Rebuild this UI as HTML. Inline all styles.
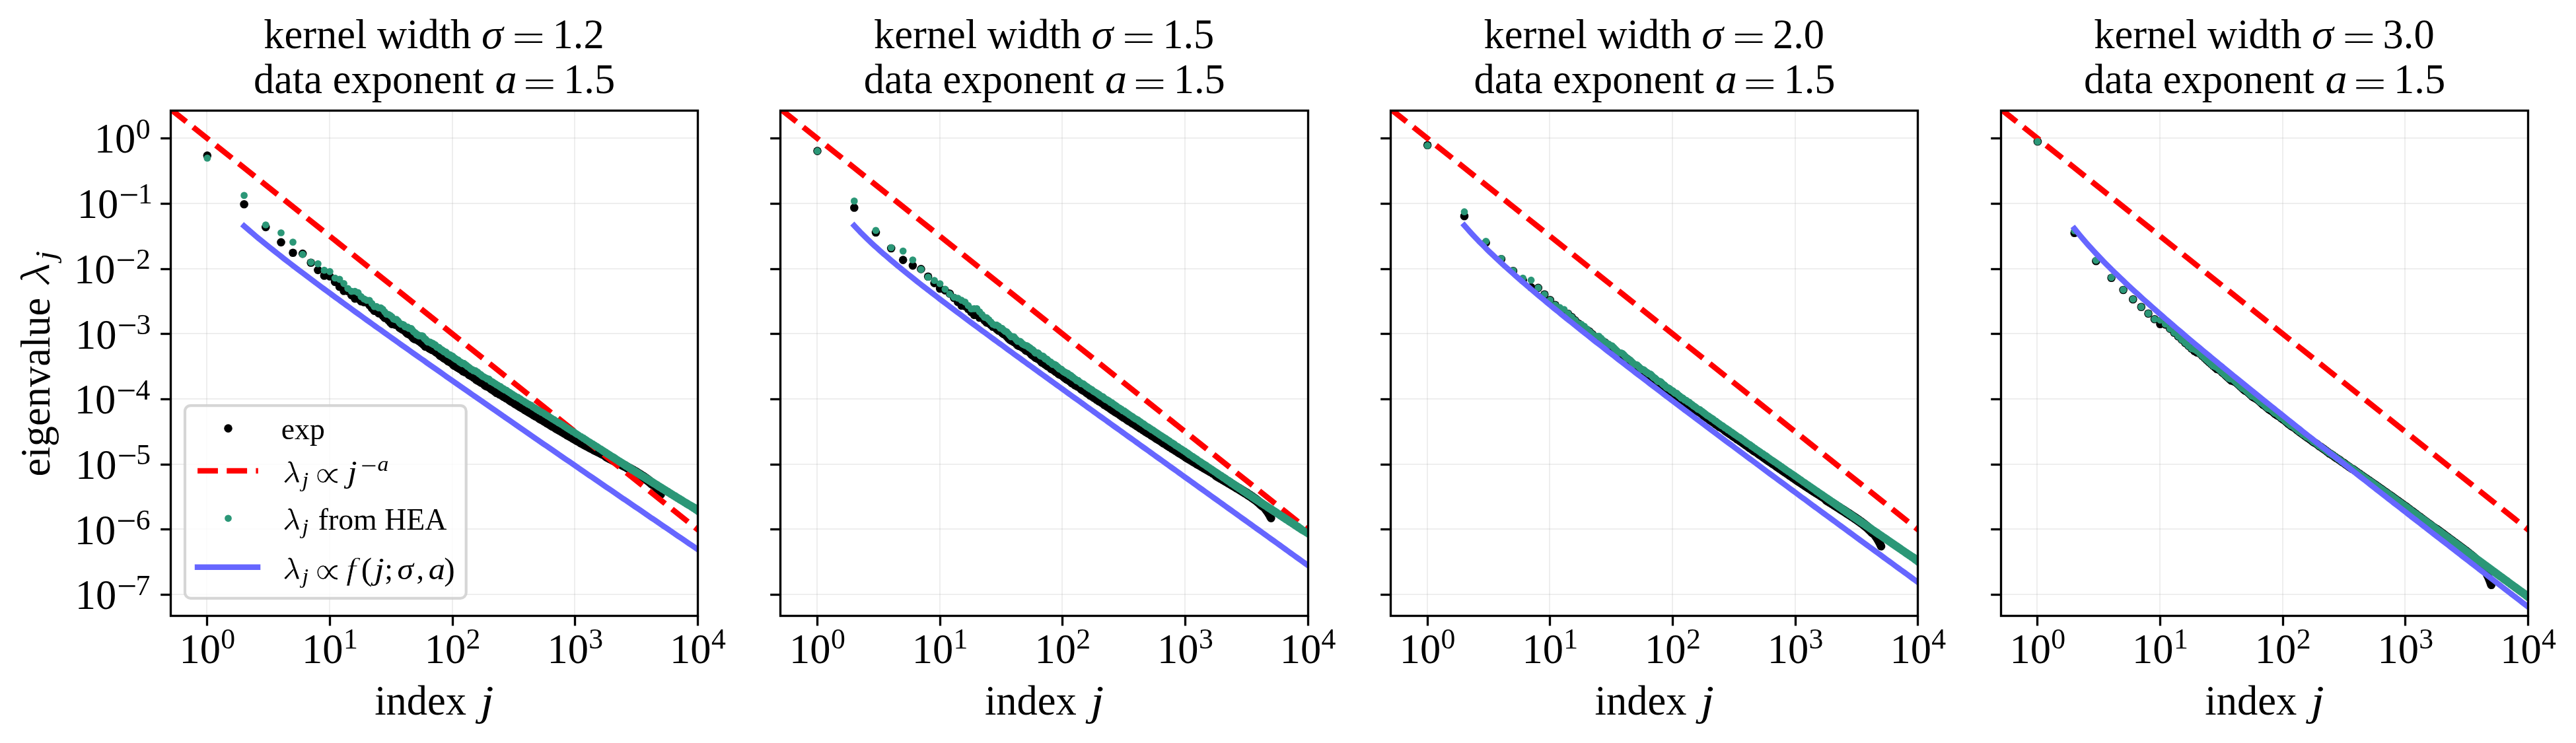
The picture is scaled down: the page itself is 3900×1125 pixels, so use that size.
<!DOCTYPE html>
<html><head><meta charset="utf-8"><title>spectra</title><style>html,body{margin:0;padding:0;background:#fff}svg{display:block;will-change:transform}text{font-family:"Liberation Serif",serif;fill:#000}.i{font-style:italic}</style></head><body>
<svg width="3900" height="1125" viewBox="0 0 3900 1125">
<rect width="3900" height="1125" fill="#fff"/>
<defs>
<clipPath id="c0"><rect x="258.5" y="167.5" width="798.0" height="765.0"/></clipPath>
<clipPath id="c1"><rect x="1181.5" y="167.5" width="799.0" height="765.0"/></clipPath>
<clipPath id="c2"><rect x="2105.5" y="167.5" width="798.0" height="765.0"/></clipPath>
<clipPath id="c3"><rect x="3029.5" y="167.5" width="798.0" height="765.0"/></clipPath>
</defs>
<g stroke="#b0b0b0" stroke-opacity="0.21" stroke-width="2">
<line x1="313" y1="167.5" x2="313" y2="932.5"/>
<line x1="499" y1="167.5" x2="499" y2="932.5"/>
<line x1="685" y1="167.5" x2="685" y2="932.5"/>
<line x1="870" y1="167.5" x2="870" y2="932.5"/>
<line x1="258.5" y1="209" x2="1056.5" y2="209"/>
<line x1="258.5" y1="308" x2="1056.5" y2="308"/>
<line x1="258.5" y1="407" x2="1056.5" y2="407"/>
<line x1="258.5" y1="505" x2="1056.5" y2="505"/>
<line x1="258.5" y1="604" x2="1056.5" y2="604"/>
<line x1="258.5" y1="703" x2="1056.5" y2="703"/>
<line x1="258.5" y1="801" x2="1056.5" y2="801"/>
<line x1="258.5" y1="900" x2="1056.5" y2="900"/>
</g>
<g clip-path="url(#c0)">
<g fill="#000">
<circle cx="313.8" cy="235.6" r="6.3"/>
<circle cx="369.6" cy="309.2" r="6.3"/>
<circle cx="402.3" cy="343.9" r="6.3"/>
<circle cx="425.5" cy="366.9" r="6.3"/>
<circle cx="443.5" cy="382.7" r="6.3"/>
<circle cx="458.2" cy="384.1" r="6.3"/>
<circle cx="470.7" cy="397.7" r="6.3"/>
<circle cx="481.4" cy="408.9" r="6.3"/>
<circle cx="490.9" cy="417.5" r="6.3"/>
<circle cx="499.4" cy="418.5" r="6.3"/>
<circle cx="507.1" cy="426.9" r="6.3"/>
<circle cx="514.1" cy="434.3" r="6.3"/>
<circle cx="520.6" cy="440.5" r="6.3"/>
<circle cx="526.6" cy="440.9" r="6.3"/>
<circle cx="532.1" cy="446.9" r="6.3"/>
<circle cx="537.3" cy="452.1" r="6.3"/>
<circle cx="542.2" cy="452.4" r="6.3"/>
<circle cx="546.8" cy="456.2" r="6.3"/>
<circle cx="551.2" cy="457.5" r="6.3"/>
<circle cx="555.3" cy="457.5" r="6.3"/>
<circle cx="559.3" cy="462.1" r="6.3"/>
<circle cx="563" cy="466.5" r="6.3"/>
<circle cx="566.6" cy="470.6" r="6.3"/>
<circle cx="570" cy="471" r="6.3"/>
<circle cx="573.3" cy="474.4" r="6.3"/>
<circle cx="576.5" cy="474.9" r="6.3"/>
<circle cx="579.5" cy="478" r="6.3"/>
<circle cx="582.5" cy="481.4" r="6.3"/>
<circle cx="585.3" cy="482.1" r="6.3"/>
<circle cx="588" cy="484.7" r="6.3"/>
<circle cx="590.7" cy="487.8" r="6.3"/>
<circle cx="593.2" cy="490.6" r="6.3"/>
<circle cx="595.7" cy="490.7" r="6.3"/>
<circle cx="598.1" cy="491.6" r="6.3"/>
<circle cx="600.4" cy="491.8" r="6.3"/>
<circle cx="602.7" cy="493.5" r="6.3"/>
<circle cx="604.9" cy="496.2" r="6.3"/>
<circle cx="607.1" cy="497.6" r="6.3"/>
<circle cx="609.2" cy="498.7" r="6.3"/>
<circle cx="611.2" cy="499.8" r="6.3"/>
<circle cx="613.2" cy="501.2" r="6.3"/>
<circle cx="615.1" cy="503.6" r="6.3"/>
<circle cx="617" cy="505.2" r="6.3"/>
<circle cx="618.9" cy="505.9" r="6.3"/>
<circle cx="620.7" cy="507.1" r="6.3"/>
<circle cx="622.5" cy="508.1" r="6.3"/>
<circle cx="624.2" cy="510.2" r="6.3"/>
<circle cx="625.9" cy="512.3" r="6.3"/>
<circle cx="627.6" cy="513.2" r="6.3"/>
<circle cx="629.2" cy="513.7" r="6.3"/>
<circle cx="630.8" cy="514.3" r="6.3"/>
<circle cx="632.4" cy="514.5" r="6.3"/>
<circle cx="633.9" cy="516.2" r="6.3"/>
<circle cx="635.4" cy="516.3" r="6.3"/>
<circle cx="636.9" cy="518.1" r="6.3"/>
<circle cx="638.3" cy="519.6" r="6.3"/>
<circle cx="639.8" cy="519.9" r="6.3"/>
<circle cx="641.2" cy="521.7" r="6.3"/>
<circle cx="642.6" cy="523.4" r="6.3"/>
<circle cx="643.9" cy="524.7" r="6.3"/>
<circle cx="645.2" cy="525" r="6.3"/>
<circle cx="646.6" cy="525.1" r="6.3"/>
<circle cx="647.8" cy="525.7" r="6.3"/>
<circle cx="649.1" cy="526.7" r="6.3"/>
<circle cx="650.4" cy="527.8" r="6.3"/>
<circle cx="651.6" cy="528.3" r="6.3"/>
<circle cx="652.8" cy="528.7" r="6.3"/>
<circle cx="654" cy="529.9" r="6.3"/>
<circle cx="655.2" cy="530" r="6.3"/>
<circle cx="656.3" cy="530" r="6.3"/>
<circle cx="657.5" cy="531.3" r="6.3"/>
<circle cx="658.6" cy="531.4" r="6.3"/>
<circle cx="659.7" cy="532.9" r="6.3"/>
<circle cx="660.8" cy="533.9" r="6.3"/>
<circle cx="661.9" cy="534.3" r="6.3"/>
<circle cx="663" cy="534.6" r="6.3"/>
<circle cx="664" cy="535.7" r="6.3"/>
<circle cx="665.1" cy="537.1" r="6.3"/>
<circle cx="666.1" cy="538.5" r="6.3"/>
<circle cx="667.1" cy="538.9" r="6.3"/>
<circle cx="668.1" cy="538.9" r="6.3"/>
<circle cx="669.1" cy="539.8" r="6.3"/>
<circle cx="670.1" cy="541.1" r="6.3"/>
<circle cx="671" cy="541.2" r="6.3"/>
<circle cx="672" cy="542.4" r="6.3"/>
<circle cx="672.9" cy="542.9" r="6.3"/>
<circle cx="673.9" cy="543.3" r="6.3"/>
<circle cx="674.8" cy="543.6" r="6.3"/>
<circle cx="675.7" cy="544.6" r="6.3"/>
<circle cx="676.6" cy="544.8" r="6.3"/>
<circle cx="677.5" cy="546" r="6.3"/>
<circle cx="678.4" cy="546.7" r="6.3"/>
<circle cx="679.2" cy="547.2" r="6.3"/>
<circle cx="680.1" cy="547.2" r="6.3"/>
<circle cx="681" cy="547.7" r="6.3"/>
<circle cx="681.8" cy="548.2" r="6.3"/>
<circle cx="682.6" cy="548.3" r="6.3"/>
<circle cx="683.5" cy="549.5" r="6.3"/>
<circle cx="684.3" cy="550.3" r="6.3"/>
<circle cx="685.1" cy="550.6" r="6.3"/>
<circle cx="685.9" cy="551.7" r="6.3"/>
<circle cx="686.7" cy="552.8" r="6.3"/>
<circle cx="687.5" cy="553.6" r="6.3"/>
<circle cx="688.3" cy="553.6" r="6.3"/>
<circle cx="689" cy="553.8" r="6.3"/>
<circle cx="689.8" cy="554.3" r="6.3"/>
<circle cx="690.6" cy="554.8" r="6.3"/>
<circle cx="691.3" cy="555.6" r="6.3"/>
<circle cx="692" cy="555.8" r="6.3"/>
<circle cx="692.8" cy="556.4" r="6.3"/>
<circle cx="693.5" cy="556.8" r="6.3"/>
<circle cx="694.2" cy="556.8" r="6.3"/>
<circle cx="695" cy="557.8" r="6.3"/>
<circle cx="695.7" cy="557.8" r="6.3"/>
<circle cx="696.4" cy="558.6" r="6.3"/>
<circle cx="697.1" cy="558.7" r="6.3"/>
<circle cx="697.8" cy="558.9" r="6.3"/>
<circle cx="698.4" cy="559.7" r="6.3"/>
<circle cx="699.1" cy="559.8" r="6.3"/>
<circle cx="699.8" cy="560.6" r="6.3"/>
</g>
<polyline points="699.8,560.6 701.1,562.5 702.4,562.7 703.7,563.5 705,563.8 706.3,564.2 707.5,565 708.7,565.9 709.9,567.6 711.1,568.3 712.2,568.6 713.4,569.4 714.5,569.9 715.6,570.7 716.7,571.5 717.8,572.4 718.9,572.8 719.9,573.7 721,575.1 722,575.5 723,576.3 724,576.6 725,577.3 726,577.9 726.9,578.6 727.9,579.2 728.8,579.7 729.8,579.8 730.7,580.5 731.6,581.1 732.5,581.8 733.8,583.3 735.1,584.2 736.4,584.9 737.7,585.4 739,585.8 740.2,586.6 741.4,587.1 742.6,588.3 743.8,589.4 744.9,589.9 746.1,590.5 747.2,591.5 748.3,592.2 749.4,593.1 750.5,593.8 751.6,595 752.6,595.2 753.7,595.7 754.7,596.1 755.7,596.8 756.7,597.5 757.7,597.8 758.7,598.2 759.6,598.8 760.6,599.8 761.5,600 762.5,601 763.4,601.1 764.3,601.5 765.2,602.4 766.4,603.2 767.5,603.8 768.7,604.3 769.8,605 771,606.1 772.1,606.9 773.2,607.7 774.2,608.3 775.3,608.8 776.3,609.2 777.4,610 778.4,610.9 779.4,611.5 780.4,612 781.4,612.8 782.3,613.1 783.3,613.6 784.3,614.5 785.2,615.1 786.1,615.6 787,616.3 787.9,616.5 789.1,617.3 790.2,618.2 791.3,618.4 792.3,619.2 793.4,620 794.4,620.8 795.5,621.4 796.5,621.9 797.5,622.5 798.5,623.1 799.5,623.7 800.4,624.3 801.4,624.8 802.3,625.1 803.3,625.9 804.2,626.5 805.1,627 806,627.6 807.1,628.2 808.2,629.1 809.2,629.5 810.2,630.4 811.3,630.7 812.3,631.2 813.3,631.6 814.2,632.1 815.2,633.1 816.2,633.9 817.1,634.4 818,634.7 819,635.5 819.9,635.7 820.8,636.4 821.8,636.9 822.9,637.6 823.9,638.3 824.9,638.7 825.9,639.4 826.8,640 827.8,640.8 828.8,641.3 829.7,641.8 830.7,642.4 831.6,642.9 832.5,643.5 833.4,644.1 834.4,644.8 835.4,645.2 836.4,646 837.4,646.3 838.4,646.8 839.3,647.4 840.3,648.2 841.2,648.8 842.1,649.4 843,649.7 843.9,650.4 845,650.9 845.9,651.5 846.9,652 847.9,652.5 848.9,653.2 849.8,653.7 850.7,654.3 851.7,654.9 852.6,655.3 853.5,656 854.5,656.5 855.5,656.9 856.4,657.7 857.4,658.3 858.3,659.1 859.3,659.6 860.2,660 861.1,660.5 862,660.9 863,661.4 864,662.2 864.9,662.6 865.9,663.1 866.8,663.8 867.7,664.4 868.7,664.9 869.6,665.2 870.5,665.8 871.5,666.4 872.5,667.1 873.4,667.6 874.3,668.1" fill="none" stroke="#000" stroke-width="12.6" stroke-linecap="round" stroke-linejoin="round"/>
<polyline points="871.5,666.4 872.5,667.1 873.4,667.6 874.3,668.1 875.2,668.5 876.2,669 877.1,669.6 878,670.4 879,671 879.9,671.4 880.8,671.9 881.8,672.4 882.7,672.9 883.6,673.4 884.6,674 885.5,674.4 886.5,675 887.4,675.4 888.3,675.9 889.2,676.3 890.2,676.8 891.1,677.4 892.1,678.1 893,678.4 893.9,679 894.8,679.4 895.7,679.7 896.7,680.3 897.6,680.8 898.5,681.4 899.4,681.7 900.4,682.5 901.3,682.8 902.3,683.3 903.2,683.8 904.1,684.2 905,684.7 906,685.2 906.9,685.6 907.8,686.1 908.7,686.6 909.6,687 910.6,687.5 911.5,687.9 912.4,688.4 913.3,688.8 914.3,689.2 915.2,689.9 916.1,690.3 917,690.8 917.9,691.2 918.9,691.6 919.8,692 920.7,692.6 921.6,693 922.6,693.5 923.5,694.1 924.4,694.4 925.3,694.9 926.3,695.4 927.2,695.9 928.1,696.3 929,696.8 929.9,697.2 930.9,697.7 931.8,698.2 932.7,698.7 933.6,699.2 934.5,699.6 935.4,700.1 936.4,700.7 937.3,701.1 938.2,701.6 939.1,701.9 940,702.5 941,703 941.9,703.5 942.8,704 943.7,704.5 944.6,704.9 945.6,705.5 946.5,705.9 947.4,706.4 948.3,706.9 949.2,707.4 950.1,708 951.1,708.5 952,709 952.9,709.4 953.8,710 954.7,710.5 955.7,711 956.6,711.6 957.5,712.1 958.4,712.5 959.3,713.1 960.2,713.6 961.1,714.2 962.1,714.7 963,715.2 963.9,715.9 964.8,716.5 965.7,716.9 966.6,717.5 967.5,718.1 968.5,718.6 969.4,719.2 970.3,719.8 971.2,720.4 972.1,720.9 973,721.5 973.9,722.1 974.8,722.7 975.7,723.4 976.6,724 977.6,724.6 978.5,725.3 979.4,725.9 980.3,726.6 981.2,727.3 982.1,727.9 983,728.7 983.9,729.5 984.8,730.3 985.8,731.1 986.7,731.9 987.6,732.7 988.5,733.5 989.4,734.5 990.3,735.3 991.2,736.3 992.1,737.3 993,738.3 993.9,739.3 994.8,740.4 995.8,741.6 996.7,742.8 997.6,744.1 998.5,745.5 999.4,746.8 1000.3,748.3 1000.6,748.7" fill="none" stroke="#000" stroke-width="12.6" stroke-linecap="round" stroke-linejoin="round"/>
<polyline points="917.9,691.2 918.9,691.6 919.8,692 920.7,692.6 921.6,693 922.6,693.5 923.5,694.1 924.4,694.4 925.3,694.9 926.3,695.4 927.2,695.9 928.1,696.3 929,696.8 929.9,697.2 930.9,697.7 931.8,698.2 932.7,698.7 933.6,699.2 934.5,699.6 935.4,700.1 936.4,700.7 937.3,701.1 938.2,701.6 939.1,701.9 940,702.5 941,703 941.9,703.5 942.8,704 943.7,704.5 944.6,704.9 945.6,705.5 946.5,705.9 947.4,706.4 948.3,706.9 949.2,707.4 950.1,708 951.1,708.5 952,709 952.9,709.4 953.8,710 954.7,710.5 955.7,711 956.6,711.6 957.5,712.1 958.4,712.5 959.3,713.1 960.2,713.6 961.1,714.2 962.1,714.7 963,715.2 963.9,715.9 964.8,716.5 965.7,716.9 966.6,717.5 967.5,718.1 968.5,718.6 969.4,719.2 970.3,719.8 971.2,720.4 972.1,720.9 973,721.5 973.9,722.1 974.8,722.7 975.7,723.4 976.6,724 977.6,724.6 978.5,725.3 979.4,725.9 980.3,726.6 981.2,727.3 982.1,727.9 983,728.7 983.9,729.5 984.8,730.3 985.8,731.1 986.7,731.9 987.6,732.7" fill="none" stroke="#000" stroke-width="14.809999999999999" stroke-linecap="round" stroke-linejoin="round"/>
<line x1="257.9" y1="165" x2="1065.7" y2="809.3" stroke="#ff0000" stroke-width="8.5" stroke-dasharray="30.83 13.33"/>
<g fill="#2b9777">
<circle cx="313.8" cy="239.4" r="5.35"/>
<circle cx="369.6" cy="295.9" r="5.35"/>
<circle cx="402.3" cy="340.5" r="5.35"/>
<circle cx="425.5" cy="352.5" r="5.35"/>
<circle cx="443.5" cy="366.6" r="5.35"/>
<circle cx="458.2" cy="385.1" r="5.35"/>
<circle cx="470.7" cy="397.1" r="5.35"/>
<circle cx="481.4" cy="399.4" r="5.35"/>
<circle cx="490.9" cy="409.1" r="5.35"/>
<circle cx="499.4" cy="411.2" r="5.35"/>
<circle cx="507.1" cy="421" r="5.35"/>
<circle cx="514.1" cy="422.9" r="5.35"/>
<circle cx="520.6" cy="429.3" r="5.35"/>
<circle cx="526.6" cy="436.8" r="5.35"/>
<circle cx="532.1" cy="441.1" r="5.35"/>
<circle cx="537.3" cy="441" r="5.35"/>
<circle cx="542.2" cy="443.2" r="5.35"/>
<circle cx="546.8" cy="449.2" r="5.35"/>
<circle cx="551.2" cy="452.6" r="5.35"/>
<circle cx="555.3" cy="454.6" r="5.35"/>
<circle cx="559.3" cy="454.8" r="5.35"/>
<circle cx="563" cy="459.5" r="5.35"/>
<circle cx="566.6" cy="464.2" r="5.35"/>
<circle cx="570" cy="464.1" r="5.35"/>
<circle cx="573.3" cy="466.1" r="5.35"/>
<circle cx="576.5" cy="466" r="5.35"/>
<circle cx="579.5" cy="468.3" r="5.35"/>
<circle cx="582.5" cy="472.3" r="5.35"/>
<circle cx="585.3" cy="475.6" r="5.35"/>
<circle cx="588" cy="476" r="5.35"/>
<circle cx="590.7" cy="477.5" r="5.35"/>
<circle cx="593.2" cy="479.5" r="5.35"/>
<circle cx="595.7" cy="482.9" r="5.35"/>
<circle cx="598.1" cy="483.8" r="5.35"/>
<circle cx="600.4" cy="483.7" r="5.35"/>
<circle cx="602.7" cy="486" r="5.35"/>
<circle cx="604.9" cy="489" r="5.35"/>
<circle cx="607.1" cy="491" r="5.35"/>
<circle cx="609.2" cy="491" r="5.35"/>
<circle cx="611.2" cy="491.8" r="5.35"/>
<circle cx="613.2" cy="494.6" r="5.35"/>
<circle cx="615.1" cy="495.2" r="5.35"/>
<circle cx="617" cy="495.1" r="5.35"/>
<circle cx="618.9" cy="497.1" r="5.35"/>
<circle cx="620.7" cy="497.3" r="5.35"/>
<circle cx="622.5" cy="497.3" r="5.35"/>
<circle cx="624.2" cy="499.5" r="5.35"/>
<circle cx="625.9" cy="502" r="5.35"/>
<circle cx="627.6" cy="503.2" r="5.35"/>
<circle cx="629.2" cy="504.3" r="5.35"/>
<circle cx="630.8" cy="506.6" r="5.35"/>
<circle cx="632.4" cy="506.5" r="5.35"/>
<circle cx="633.9" cy="508.5" r="5.35"/>
<circle cx="635.4" cy="508.5" r="5.35"/>
<circle cx="636.9" cy="508.4" r="5.35"/>
<circle cx="638.3" cy="508.5" r="5.35"/>
<circle cx="639.8" cy="508.6" r="5.35"/>
<circle cx="641.2" cy="510.6" r="5.35"/>
<circle cx="642.6" cy="512.7" r="5.35"/>
<circle cx="643.9" cy="513.3" r="5.35"/>
<circle cx="645.2" cy="514.6" r="5.35"/>
<circle cx="646.6" cy="516.5" r="5.35"/>
<circle cx="647.8" cy="517.9" r="5.35"/>
<circle cx="649.1" cy="517.8" r="5.35"/>
<circle cx="650.4" cy="517.8" r="5.35"/>
<circle cx="651.6" cy="518.2" r="5.35"/>
<circle cx="652.8" cy="519.8" r="5.35"/>
<circle cx="654" cy="519.7" r="5.35"/>
<circle cx="655.2" cy="519.9" r="5.35"/>
<circle cx="656.3" cy="521.7" r="5.35"/>
<circle cx="657.5" cy="521.9" r="5.35"/>
<circle cx="658.6" cy="521.9" r="5.35"/>
<circle cx="659.7" cy="523.3" r="5.35"/>
<circle cx="660.8" cy="525" r="5.35"/>
<circle cx="661.9" cy="525.9" r="5.35"/>
<circle cx="663" cy="525.8" r="5.35"/>
<circle cx="664" cy="525.8" r="5.35"/>
<circle cx="665.1" cy="526.5" r="5.35"/>
<circle cx="666.1" cy="528.1" r="5.35"/>
<circle cx="667.1" cy="529.1" r="5.35"/>
<circle cx="668.1" cy="529.5" r="5.35"/>
<circle cx="669.1" cy="529.5" r="5.35"/>
<circle cx="670.1" cy="531" r="5.35"/>
<circle cx="671" cy="531" r="5.35"/>
<circle cx="672" cy="532.5" r="5.35"/>
<circle cx="672.9" cy="533" r="5.35"/>
<circle cx="673.9" cy="533" r="5.35"/>
<circle cx="674.8" cy="532.9" r="5.35"/>
<circle cx="675.7" cy="533.8" r="5.35"/>
<circle cx="676.6" cy="535.2" r="5.35"/>
<circle cx="677.5" cy="536.3" r="5.35"/>
<circle cx="678.4" cy="536.5" r="5.35"/>
<circle cx="679.2" cy="537.1" r="5.35"/>
<circle cx="680.1" cy="537.1" r="5.35"/>
<circle cx="681" cy="537.1" r="5.35"/>
<circle cx="681.8" cy="537.8" r="5.35"/>
<circle cx="682.6" cy="539.1" r="5.35"/>
<circle cx="683.5" cy="539.3" r="5.35"/>
<circle cx="684.3" cy="539.3" r="5.35"/>
<circle cx="685.1" cy="539.2" r="5.35"/>
<circle cx="685.9" cy="540.3" r="5.35"/>
<circle cx="686.7" cy="541.5" r="5.35"/>
<circle cx="687.5" cy="542.3" r="5.35"/>
<circle cx="688.3" cy="542.2" r="5.35"/>
<circle cx="689" cy="542.7" r="5.35"/>
<circle cx="689.8" cy="543.9" r="5.35"/>
<circle cx="690.6" cy="544.2" r="5.35"/>
<circle cx="691.3" cy="544.2" r="5.35"/>
<circle cx="692" cy="545" r="5.35"/>
<circle cx="692.8" cy="545" r="5.35"/>
<circle cx="693.5" cy="545" r="5.35"/>
<circle cx="694.2" cy="546.1" r="5.35"/>
<circle cx="695" cy="547.3" r="5.35"/>
<circle cx="695.7" cy="547.7" r="5.35"/>
<circle cx="696.4" cy="548.4" r="5.35"/>
<circle cx="697.1" cy="548.3" r="5.35"/>
<circle cx="697.8" cy="548.3" r="5.35"/>
<circle cx="698.4" cy="549.4" r="5.35"/>
<circle cx="699.1" cy="550.3" r="5.35"/>
<circle cx="699.8" cy="550.3" r="5.35"/>
</g>
<polyline points="699.8,550.3 701.1,550.2 702.4,550.4 703.7,551.3 705,552.6 706.3,553.3 707.5,555 708.7,555.3 709.9,556.2 711.1,557.2 712.2,558.1 713.4,559.4 714.5,559.3 715.6,559.8 716.7,561.3 717.8,561.2 718.9,561.3 719.9,561.4 721,563.1 722,563.3 723,563.3 724,564.7 725,565.5 726,566.3 726.9,567.1 727.9,567.1 728.8,568.6 729.8,568.9 730.7,570.1 731.6,570.2 732.5,570.7 733.8,571.4 735.1,572.1 736.4,572.8 737.7,574 739,573.9 740.2,574.1 741.4,575.5 742.6,577.1 743.8,578 744.9,577.9 746.1,578.5 747.2,579.8 748.3,580 749.4,581 750.5,581.4 751.6,582.8 752.6,582.8 753.7,583.2 754.7,584.4 755.7,584.7 756.7,585.5 757.7,585.4 758.7,586.8 759.6,587.1 760.6,588.1 761.5,588.7 762.5,588.6 763.4,589.7 764.3,590.5 765.2,590.5 766.4,590.7 767.5,591.6 768.7,592.8 769.8,593.5 771,593.9 772.1,595.1 773.2,595.3 774.2,596.2 775.3,597.2 776.3,597.2 777.4,598.3 778.4,599.4 779.4,599.3 780.4,600.2 781.4,601 782.3,601.1 783.3,601.2 784.3,601.7 785.2,603 786.1,603.2 787,603.4 787.9,604.1 789.1,605.3 790.2,606 791.3,606.8 792.3,607.2 793.4,607.8 794.4,608.7 795.5,609.4 796.5,609.9 797.5,610.4 798.5,611.2 799.5,611.8 800.4,612 801.4,612.4 802.3,613.6 803.3,613.6 804.2,613.8 805.1,614.7 806,615.7 807.1,616.3 808.2,617 809.2,617.5 810.2,618.2 811.3,618.9 812.3,619.7 813.3,620.3 814.2,620.6 815.2,621 816.2,622.3 817.1,622.4 818,622.8 819,623.8 819.9,624.3 820.8,624.4 821.8,625.1 822.9,625.8 823.9,626.3 824.9,627.2 825.9,627.7 826.8,628.2 827.8,628.8 828.8,629.7 829.7,630.1 830.7,630.3 831.6,631.2 832.5,631.8 833.4,632.4 834.4,633.1 835.4,633.5 836.4,634.5 837.4,635 838.4,635.2 839.3,635.8 840.3,636.9 841.2,637.1 842.1,637.9 843,638.4 843.9,638.9 845,639.6 845.9,640.5 846.9,640.8 847.9,641 848.9,641.9 849.8,642.5 850.7,642.9 851.7,643.4 852.6,644.3 853.5,644.8 854.5,645.5 855.5,645.8 856.4,646.7 857.4,647.6 858.3,647.7 859.3,648.5 860.2,649.2 861.1,649.8 862,650.2 863,651 864,651.7 864.9,651.9 865.9,652.5 866.8,653.6 867.7,653.8 868.7,653.9 869.6,654.8 870.5,655.7 871.5,656.4 872.5,656.7 873.4,657.5 874.3,657.9" fill="none" stroke="#2b9777" stroke-width="10.7" stroke-linecap="round" stroke-linejoin="round"/>
<polygon points="871.5,650.4 872.5,650.7 873.4,651.5 874.3,651.8 875.2,652.4 876.2,653.1 877.1,653.6 878,654.3 879,654.6 879.9,655.3 880.8,656 881.8,656.2 882.7,656.6 883.6,657.5 884.6,658.1 885.5,658.3 886.5,658.8 887.4,659.7 888.3,660.2 889.2,660.8 890.2,661.5 891.1,662.1 892.1,662.7 893,663.4 893.9,663.9 894.8,664.2 895.7,664.9 896.7,665.6 897.6,666.3 898.5,666.9 899.4,667.1 900.4,667.7 901.3,668.6 902.3,669 903.2,669.5 904.1,670.2 905,670.8 906,671.2 906.9,671.8 907.8,672.5 908.7,673 909.6,673.7 910.6,674.5 911.5,674.8 912.4,675.3 913.3,676 914.3,676.6 915.2,677.2 916.1,677.7 917,678.3 917.9,678.9 918.9,679.6 919.8,680 920.7,680.6 921.6,681.4 922.6,681.7 923.5,682.5 924.4,683 925.3,683.8 926.3,684.1 927.2,684.9 928.1,685.5 929,685.9 929.9,686.4 930.9,687 931.8,687.6 932.7,688 933.6,688.8 934.5,689.3 935.4,690 936.4,690.7 937.3,691.2 938.2,691.7 939.1,692.4 940,692.9 941,693.4 941.9,694 942.8,694.7 943.7,695.2 944.6,695.8 945.6,696.5 946.5,696.9 947.4,697.5 948.3,698.2 949.2,698.6 950.1,699 951.1,699.7 952,700.5 952.9,701 953.8,701.7 954.7,702.2 955.7,702.7 956.6,703.3 957.5,703.9 958.4,704.5 959.3,705.2 960.2,705.7 961.1,706.2 962.1,706.9 963,707.7 963.9,707.9 964.8,708.5 965.7,709.3 966.6,709.7 967.5,710.2 968.5,710.9 969.4,711.5 970.3,711.9 971.2,712.6 972.1,713.2 973,713.7 973.9,714.4 974.8,715 975.7,715.5 976.6,716.1 977.6,716.6 978.5,717.2 979.4,717.8 980.3,718.3 981.2,718.8 982.1,719.4 983,720.1 983.9,720.6 984.8,721.1 985.8,721.8 986.7,722.3 987.6,722.8 988.5,723.4 989.4,724 990.3,724.4 991.2,725.1 992.1,725.7 993,726.3 993.9,726.8 994.8,727.5 995.8,728.1 996.7,728.4 997.6,729 998.5,729.6 999.4,730.3 1000.3,730.9 1001.2,731.3 1002.1,732 1003,732.6 1003.9,733.1 1004.8,733.6 1005.7,734.2 1006.6,734.8 1007.5,735.2 1008.5,735.9 1009.4,736.4 1010.3,737 1011.2,737.5 1012.1,738.2 1013,738.8 1013.9,739.1 1014.8,739.7 1015.7,740.4 1016.6,741 1017.5,741.5 1018.4,742 1019.3,742.7 1020.2,743.2 1021.2,743.8 1022.1,744.4 1023,744.9 1023.9,745.6 1024.8,745.8 1025.7,746.5 1026.6,747.1 1027.5,747.7 1028.4,748.2 1029.3,748.8 1030.2,749.5 1031.1,749.8 1032,750.3 1032.9,751 1033.8,751.6 1034.7,752.1 1035.6,752.6 1036.5,753.3 1037.4,753.8 1038.3,754.4 1039.2,755 1040.2,755.4 1041.1,756.1 1042,756.5 1042.9,757 1043.8,757.6 1044.7,758.3 1045.6,758.7 1046.5,759.2 1047.4,759.8 1048.3,760.2 1049.2,760.7 1050.1,761.3 1051,761.8 1051.9,762.2 1052.8,762.7 1053.7,763.3 1054.6,763.7 1055.5,764.3 1056.4,764.8 1056.5,764.7 1056.5,780.8 1056.4,780.7 1055.5,780.1 1054.6,779.4 1053.7,778.9 1052.8,778.2 1051.9,777.6 1051,777 1050.1,776.5 1049.2,775.7 1048.3,775.1 1047.4,774.7 1046.5,774 1045.6,773.3 1044.7,772.9 1043.8,772.2 1042.9,771.6 1042,771 1041.1,770.6 1040.2,770 1039.2,769.5 1038.3,768.9 1037.4,768.3 1036.5,767.9 1035.6,767.2 1034.7,766.6 1033.8,766.2 1032.9,765.5 1032,764.9 1031.1,764.3 1030.2,764.1 1029.3,763.3 1028.4,762.7 1027.5,762.3 1026.6,761.7 1025.7,761.2 1024.8,760.4 1023.9,760.1 1023,759.5 1022.1,758.9 1021.2,758.3 1020.2,757.7 1019.3,757.3 1018.4,756.6 1017.5,756.1 1016.6,755.6 1015.7,755 1014.8,754.2 1013.9,753.7 1013,753.4 1012.1,752.8 1011.2,752.1 1010.3,751.6 1009.4,751 1008.5,750.5 1007.5,749.8 1006.6,749.4 1005.7,748.8 1004.8,748.2 1003.9,747.7 1003,747.1 1002.1,746.6 1001.2,745.9 1000.3,745.5 999.4,744.9 998.5,744.2 997.6,743.6 996.7,743 995.8,742.7 994.8,742.1 993.9,741.4 993,740.9 992.1,740.3 991.2,739.7 990.3,739 989.4,738.6 988.5,738 987.6,737.4 986.7,736.9 985.8,736.4 984.8,735.7 983.9,735.2 983,734.8 982.1,734.1 981.2,733.5 980.3,732.9 979.4,732.4 978.5,731.8 977.6,731.2 976.6,730.7 975.7,730.1 974.8,729.6 973.9,729 973,728.3 972.1,727.8 971.2,727.2 970.3,726.6 969.4,726.2 968.5,725.5 967.5,724.9 966.6,724.4 965.7,723.9 964.8,723.2 963.9,722.6 963,722.4 962.1,721.6 961.1,720.9 960.2,720.3 959.3,719.8 958.4,719.2 957.5,718.6 956.6,717.9 955.7,717.3 954.7,716.9 953.8,716.4 952.9,715.6 952,715.2 951.1,714.4 950.1,713.7 949.2,713.3 948.3,712.9 947.4,712.1 946.5,711.6 945.6,711.2 944.6,710.4 943.7,709.9 942.8,709.3 941.9,708.6 941,708 940,707.4 939.1,706.8 938.2,706.1 937.3,705.7 936.4,705.1 935.4,704.5 934.5,703.8 933.6,703.3 932.7,702.4 931.8,702 930.9,701.4 929.9,700.7 929,700.2 928.1,699.8 927.2,699.1 926.3,698.3 925.3,698.1 924.4,697.2 923.5,696.7 922.6,695.8 921.6,695.5 920.7,694.7 919.8,694.1 918.9,693.6 917.9,692.9 917,692.4 916.1,691.7 915.2,691.2 914.3,690.5 913.3,689.9 912.4,689.1 911.5,688.7 910.6,688.3 909.6,687.5 908.7,686.7 907.8,686.2 906.9,685.6 906,684.8 905,684.4 904.1,683.8 903.2,683.1 902.3,682.6 901.3,682.1 900.4,681.2 899.4,680.7 898.5,680.4 897.6,679.8 896.7,679 895.7,678.3 894.8,677.5 893.9,677.3 893,676.6 892.1,675.9 891.1,675.3 890.2,674.7 889.2,674 888.3,673.3 887.4,672.8 886.5,672 885.5,671.4 884.6,671.1 883.6,670.5 882.7,669.6 881.8,669.1 880.8,668.8 879.9,667.9 879,667.2 878,666.8 877.1,666 876.2,665.4 875.2,664.7 874.3,664 873.4,663.6 872.5,662.8 871.5,662.4" fill="#2b9777"/>
<polyline points="369.6,342.2 374,346 378.3,349.7 382.6,353.4 386.9,357.1 391.2,360.7 395.6,364.3 399.9,367.8 404.2,371.3 408.5,374.8 412.8,378.2 417.2,381.6 421.5,385 425.8,388.4 430.1,391.8 434.4,395.1 438.8,398.5 443.1,401.8 447.4,405.1 451.7,408.4 456,411.6 460.4,414.9 464.7,418.2 469,421.4 473.3,424.6 477.6,427.9 482,431.1 486.3,434.3 490.6,437.5 494.9,440.7 499.2,443.8 503.5,447 507.9,450.2 512.2,453.3 516.5,456.5 520.8,459.7 525.1,462.8 529.5,465.9 533.8,469.1 538.1,472.2 542.4,475.3 546.7,478.4 551.1,481.6 555.4,484.7 559.7,487.8 564,490.9 568.3,494 572.7,497.1 577,500.1 581.3,503.2 585.6,506.3 589.9,509.4 594.3,512.5 598.6,515.5 602.9,518.6 607.2,521.7 611.5,524.7 615.9,527.8 620.2,530.9 624.5,533.9 628.8,537 633.1,540 637.5,543.1 641.8,546.1 646.1,549.2 650.4,552.2 654.7,555.2 659.1,558.3 663.4,561.3 667.7,564.3 672,567.4 676.3,570.4 680.7,573.4 685,576.4 689.3,579.5 693.6,582.5 697.9,585.5 702.2,588.5 706.6,591.5 710.9,594.5 715.2,597.6 719.5,600.6 723.8,603.6 728.2,606.6 732.5,609.6 736.8,612.6 741.1,615.6 745.4,618.6 749.8,621.6 754.1,624.6 758.4,627.6 762.7,630.6 767,633.6 771.4,636.6 775.7,639.5 780,642.5 784.3,645.5 788.6,648.5 793,651.5 797.3,654.5 801.6,657.5 805.9,660.4 810.2,663.4 814.6,666.4 818.9,669.4 823.2,672.4 827.5,675.3 831.8,678.3 836.2,681.3 840.5,684.3 844.8,687.2 849.1,690.2 853.4,693.2 857.8,696.2 862.1,699.1 866.4,702.1 870.7,705.1 875,708 879.3,711 883.7,714 888,716.9 892.3,719.9 896.6,722.8 900.9,725.8 905.3,728.8 909.6,731.7 913.9,734.7 918.2,737.7 922.5,740.6 926.9,743.6 931.2,746.5 935.5,749.5 939.8,752.4 944.1,755.4 948.5,758.3 952.8,761.3 957.1,764.2 961.4,767.2 965.7,770.1 970.1,773.1 974.4,776 978.7,779 983,781.9 987.3,784.9 991.7,787.8 996,790.8 1000.3,793.7 1004.6,796.7 1008.9,799.6 1013.3,802.6 1017.6,805.5 1021.9,808.4 1026.2,811.4 1030.5,814.3 1034.9,817.3 1039.2,820.2 1043.5,823.2 1047.8,826.1 1052.1,829 1056.5,832" fill="none" stroke="#6666ff" stroke-width="8.5" stroke-linecap="square" stroke-linejoin="round"/>
</g>
<g stroke="#b0b0b0" stroke-opacity="0.21" stroke-width="2">
<line x1="1237" y1="167.5" x2="1237" y2="932.5"/>
<line x1="1423" y1="167.5" x2="1423" y2="932.5"/>
<line x1="1608" y1="167.5" x2="1608" y2="932.5"/>
<line x1="1794" y1="167.5" x2="1794" y2="932.5"/>
<line x1="1181.5" y1="209" x2="1980.5" y2="209"/>
<line x1="1181.5" y1="308" x2="1980.5" y2="308"/>
<line x1="1181.5" y1="407" x2="1980.5" y2="407"/>
<line x1="1181.5" y1="505" x2="1980.5" y2="505"/>
<line x1="1181.5" y1="604" x2="1980.5" y2="604"/>
<line x1="1181.5" y1="703" x2="1980.5" y2="703"/>
<line x1="1181.5" y1="801" x2="1980.5" y2="801"/>
<line x1="1181.5" y1="900" x2="1980.5" y2="900"/>
</g>
<g clip-path="url(#c1)">
<g fill="#000">
<circle cx="1237.5" cy="228.6" r="6.3"/>
<circle cx="1293.3" cy="314.5" r="6.3"/>
<circle cx="1326" cy="352" r="6.3"/>
<circle cx="1349.2" cy="376" r="6.3"/>
<circle cx="1367.2" cy="393.6" r="6.3"/>
<circle cx="1381.9" cy="402.1" r="6.3"/>
<circle cx="1394.4" cy="407.4" r="6.3"/>
<circle cx="1405.1" cy="418.8" r="6.3"/>
<circle cx="1414.6" cy="428.6" r="6.3"/>
<circle cx="1423.1" cy="437" r="6.3"/>
<circle cx="1430.8" cy="439.6" r="6.3"/>
<circle cx="1437.8" cy="444.5" r="6.3"/>
<circle cx="1444.3" cy="451.1" r="6.3"/>
<circle cx="1450.3" cy="457.2" r="6.3"/>
<circle cx="1455.8" cy="462.7" r="6.3"/>
<circle cx="1461" cy="463.5" r="6.3"/>
<circle cx="1465.9" cy="467.8" r="6.3"/>
<circle cx="1470.5" cy="472.5" r="6.3"/>
<circle cx="1474.9" cy="476.9" r="6.3"/>
<circle cx="1479" cy="476.9" r="6.3"/>
<circle cx="1483" cy="481" r="6.3"/>
<circle cx="1486.7" cy="480.9" r="6.3"/>
<circle cx="1490.3" cy="484.8" r="6.3"/>
<circle cx="1493.7" cy="488.4" r="6.3"/>
<circle cx="1497" cy="489.4" r="6.3"/>
<circle cx="1500.2" cy="491.8" r="6.3"/>
<circle cx="1503.2" cy="494.7" r="6.3"/>
<circle cx="1506.2" cy="495.1" r="6.3"/>
<circle cx="1509" cy="498.2" r="6.3"/>
<circle cx="1511.7" cy="500.6" r="6.3"/>
<circle cx="1514.4" cy="501.1" r="6.3"/>
<circle cx="1516.9" cy="503.9" r="6.3"/>
<circle cx="1519.4" cy="505.9" r="6.3"/>
<circle cx="1521.8" cy="506.6" r="6.3"/>
<circle cx="1524.1" cy="509.2" r="6.3"/>
<circle cx="1526.4" cy="511.7" r="6.3"/>
<circle cx="1528.6" cy="514.1" r="6.3"/>
<circle cx="1530.8" cy="515.5" r="6.3"/>
<circle cx="1532.9" cy="516.4" r="6.3"/>
<circle cx="1534.9" cy="517.9" r="6.3"/>
<circle cx="1536.9" cy="518.6" r="6.3"/>
<circle cx="1538.8" cy="520.7" r="6.3"/>
<circle cx="1540.7" cy="522.8" r="6.3"/>
<circle cx="1542.6" cy="523.8" r="6.3"/>
<circle cx="1544.4" cy="524.2" r="6.3"/>
<circle cx="1546.2" cy="524.8" r="6.3"/>
<circle cx="1547.9" cy="526.4" r="6.3"/>
<circle cx="1549.6" cy="526.7" r="6.3"/>
<circle cx="1551.3" cy="528.6" r="6.3"/>
<circle cx="1552.9" cy="530.5" r="6.3"/>
<circle cx="1554.5" cy="531.2" r="6.3"/>
<circle cx="1556.1" cy="531.5" r="6.3"/>
<circle cx="1557.6" cy="532.2" r="6.3"/>
<circle cx="1559.1" cy="533.9" r="6.3"/>
<circle cx="1560.6" cy="535.6" r="6.3"/>
<circle cx="1562" cy="537.3" r="6.3"/>
<circle cx="1563.5" cy="537.8" r="6.3"/>
<circle cx="1564.9" cy="538.9" r="6.3"/>
<circle cx="1566.3" cy="540.4" r="6.3"/>
<circle cx="1567.6" cy="541.5" r="6.3"/>
<circle cx="1568.9" cy="542" r="6.3"/>
<circle cx="1570.3" cy="542.8" r="6.3"/>
<circle cx="1571.5" cy="543.4" r="6.3"/>
<circle cx="1572.8" cy="543.7" r="6.3"/>
<circle cx="1574.1" cy="544.9" r="6.3"/>
<circle cx="1575.3" cy="546.3" r="6.3"/>
<circle cx="1576.5" cy="547.7" r="6.3"/>
<circle cx="1577.7" cy="549.1" r="6.3"/>
<circle cx="1578.9" cy="549.2" r="6.3"/>
<circle cx="1580" cy="549.9" r="6.3"/>
<circle cx="1581.2" cy="550.4" r="6.3"/>
<circle cx="1582.3" cy="551.7" r="6.3"/>
<circle cx="1583.4" cy="552.3" r="6.3"/>
<circle cx="1584.5" cy="552.9" r="6.3"/>
<circle cx="1585.6" cy="554.2" r="6.3"/>
<circle cx="1586.7" cy="554.2" r="6.3"/>
<circle cx="1587.7" cy="555.1" r="6.3"/>
<circle cx="1588.8" cy="555.4" r="6.3"/>
<circle cx="1589.8" cy="556.6" r="6.3"/>
<circle cx="1590.8" cy="557.8" r="6.3"/>
<circle cx="1591.8" cy="558.8" r="6.3"/>
<circle cx="1592.8" cy="558.8" r="6.3"/>
<circle cx="1593.8" cy="558.9" r="6.3"/>
<circle cx="1594.7" cy="560.1" r="6.3"/>
<circle cx="1595.7" cy="560.6" r="6.3"/>
<circle cx="1596.6" cy="561.2" r="6.3"/>
<circle cx="1597.6" cy="562.3" r="6.3"/>
<circle cx="1598.5" cy="563.1" r="6.3"/>
<circle cx="1599.4" cy="563.1" r="6.3"/>
<circle cx="1600.3" cy="563.3" r="6.3"/>
<circle cx="1601.2" cy="564.4" r="6.3"/>
<circle cx="1602.1" cy="565.5" r="6.3"/>
<circle cx="1602.9" cy="566.3" r="6.3"/>
<circle cx="1603.8" cy="566.5" r="6.3"/>
<circle cx="1604.7" cy="567.2" r="6.3"/>
<circle cx="1605.5" cy="567.1" r="6.3"/>
<circle cx="1606.3" cy="567.5" r="6.3"/>
<circle cx="1607.2" cy="567.9" r="6.3"/>
<circle cx="1608" cy="568.5" r="6.3"/>
<circle cx="1608.8" cy="569.4" r="6.3"/>
<circle cx="1609.6" cy="570.4" r="6.3"/>
<circle cx="1610.4" cy="570.9" r="6.3"/>
<circle cx="1611.2" cy="571.3" r="6.3"/>
<circle cx="1612" cy="572.3" r="6.3"/>
<circle cx="1612.7" cy="572.3" r="6.3"/>
<circle cx="1613.5" cy="573.2" r="6.3"/>
<circle cx="1614.3" cy="574.1" r="6.3"/>
<circle cx="1615" cy="574.4" r="6.3"/>
<circle cx="1615.7" cy="574.5" r="6.3"/>
<circle cx="1616.5" cy="575" r="6.3"/>
<circle cx="1617.2" cy="575.5" r="6.3"/>
<circle cx="1617.9" cy="575.8" r="6.3"/>
<circle cx="1618.7" cy="575.8" r="6.3"/>
<circle cx="1619.4" cy="576.7" r="6.3"/>
<circle cx="1620.1" cy="577.6" r="6.3"/>
<circle cx="1620.8" cy="577.9" r="6.3"/>
<circle cx="1621.5" cy="578.4" r="6.3"/>
<circle cx="1622.1" cy="579.2" r="6.3"/>
<circle cx="1622.8" cy="580.1" r="6.3"/>
<circle cx="1623.5" cy="580.3" r="6.3"/>
</g>
<polyline points="1623.5,580.3 1624.8,580.8 1626.1,581.6 1627.4,583.2 1628.7,583.9 1630,584 1631.2,585.4 1632.4,585.7 1633.6,586.4 1634.8,586.9 1635.9,588.3 1637.1,589.7 1638.2,590.4 1639.3,591 1640.4,591.6 1641.5,592.3 1642.6,592.7 1643.6,593.6 1644.7,594.8 1645.7,595 1646.7,596.1 1647.7,596.7 1648.7,597.3 1649.7,597.9 1650.6,599.1 1651.6,599.2 1652.5,599.7 1653.5,600.7 1654.4,600.8 1655.3,601.6 1656.2,602.5 1657.5,603.1 1658.8,603.7 1660.1,605.2 1661.4,605.8 1662.7,606.8 1663.9,607.7 1665.1,608.2 1666.3,608.7 1667.5,609.6 1668.6,610.2 1669.8,611.2 1670.9,612 1672,613.2 1673.1,613.4 1674.2,614 1675.3,615.1 1676.3,615.7 1677.4,616.4 1678.4,616.7 1679.4,617.6 1680.4,618.4 1681.4,619.4 1682.4,619.8 1683.3,620.6 1684.3,621.4 1685.2,621.7 1686.2,622.1 1687.1,622.9 1688,623.7 1688.9,624.4 1690.1,624.8 1691.2,625.5 1692.4,626.2 1693.5,626.9 1694.7,627.5 1695.8,628.7 1696.9,629.4 1697.9,630 1699,631.1 1700,631.7 1701.1,632.4 1702.1,632.7 1703.1,633.4 1704.1,633.9 1705.1,634.9 1706,635.6 1707,636.2 1708,637 1708.9,637.4 1709.8,637.9 1710.7,638.5 1711.6,638.7 1712.8,639.9 1713.9,640.7 1715,641.5 1716,641.8 1717.1,642.3 1718.1,643.2 1719.2,643.9 1720.2,644.5 1721.2,645.3 1722.2,645.9 1723.2,646.4 1724.1,647 1725.1,647.8 1726,648.5 1727,649 1727.9,649.4 1728.8,650.1 1729.7,650.6 1730.8,651.5 1731.9,652 1732.9,652.7 1733.9,653.6 1735,654.2 1736,654.5 1737,655.5 1737.9,656.1 1738.9,656.7 1739.9,657.2 1740.8,657.6 1741.7,658.4 1742.7,659.2 1743.6,659.8 1744.5,660.2 1745.5,660.8 1746.6,661.3 1747.6,662.1 1748.6,662.7 1749.6,663.6 1750.5,664.3 1751.5,664.9 1752.5,665.2 1753.4,665.8 1754.4,666.5 1755.3,667 1756.2,667.6 1757.1,668 1758.1,668.9 1759.1,669.6 1760.1,670.2 1761.1,671 1762.1,671.5 1763,672 1764,672.6 1764.9,673.1 1765.8,673.9 1766.7,674.4 1767.6,675.1 1768.7,675.7 1769.6,676.4 1770.6,677 1771.6,677.4 1772.6,678 1773.5,678.7 1774.4,679.5 1775.4,679.8 1776.3,680.5 1777.2,681 1778.2,681.6 1779.2,682.3 1780.1,682.9 1781.1,683.4 1782,684.1 1783,684.8 1783.9,685.4 1784.8,685.9 1785.7,686.6 1786.7,687.2 1787.7,687.6 1788.6,688.2 1789.6,688.8 1790.5,689.5 1791.4,690 1792.4,690.7 1793.3,691.2 1794.2,691.8 1795.2,692.5 1796.2,693.1 1797.1,693.7 1798,694.2" fill="none" stroke="#000" stroke-width="12.6" stroke-linecap="round" stroke-linejoin="round"/>
<polyline points="1795.2,692.5 1796.2,693.1 1797.1,693.7 1798,694.2 1798.9,694.9 1799.9,695.5 1800.8,695.9 1801.7,696.5 1802.7,697 1803.6,697.7 1804.5,698.2 1805.5,698.7 1806.4,699.5 1807.3,700 1808.3,700.4 1809.2,701 1810.2,701.7 1811.1,702.3 1812,702.9 1812.9,703.2 1813.9,703.8 1814.8,704.4 1815.8,704.9 1816.7,705.4 1817.6,706 1818.5,706.6 1819.4,707.2 1820.4,707.7 1821.3,708.2 1822.2,708.8 1823.1,709.4 1824.1,709.9 1825,710.3 1826,711 1826.9,711.4 1827.8,711.9 1828.7,712.5 1829.7,713.1 1830.6,713.5 1831.5,714.2 1832.4,714.7 1833.3,715.1 1834.3,715.6 1835.2,716.3 1836.1,716.9 1837,717.4 1838,717.8 1838.9,718.3 1839.8,718.9 1840.7,719.3 1841.6,719.9 1842.6,720.4 1843.5,721 1844.4,721.5 1845.3,722.1 1846.3,722.6 1847.2,723.2 1848.1,723.7 1849,724.2 1850,724.7 1850.9,725.2 1851.8,725.9 1852.7,726.3 1853.6,727 1854.6,727.4 1855.5,728 1856.4,728.6 1857.3,729.1 1858.2,729.6 1859.1,730.2 1860.1,730.8 1861,731.3 1861.9,731.8 1862.8,732.3 1863.7,732.9 1864.7,733.5 1865.6,734 1866.5,734.6 1867.4,735.1 1868.3,735.7 1869.3,736.2 1870.2,736.7 1871.1,737.3 1872,738 1872.9,738.5 1873.8,739 1874.8,739.5 1875.7,740 1876.6,740.6 1877.5,741.2 1878.4,741.7 1879.4,742.3 1880.3,742.9 1881.2,743.5 1882.1,744 1883,744.5 1883.9,745.2 1884.8,745.7 1885.8,746.3 1886.7,746.8 1887.6,747.3 1888.5,748 1889.4,748.6 1890.3,749.3 1891.2,749.8 1892.2,750.4 1893.1,751.1 1894,751.6 1894.9,752.1 1895.8,752.9 1896.7,753.6 1897.6,754.1 1898.5,754.8 1899.4,755.4 1900.3,756.1 1901.3,756.8 1902.2,757.5 1903.1,758.2 1904,758.9 1904.9,759.7 1905.8,760.5 1906.7,761.3 1907.6,762.1 1908.5,763 1909.5,763.9 1910.4,764.7 1911.3,765.6 1912.2,766.6 1913.1,767.6 1914,768.7 1914.9,769.8 1915.8,770.9 1916.7,772.1 1917.6,773.4 1918.5,774.6 1919.5,776 1920.4,777.4 1921.3,778.9 1922.2,780.5 1923.1,782.3 1924,783.9 1924.3,784.5" fill="none" stroke="#000" stroke-width="12.6" stroke-linecap="round" stroke-linejoin="round"/>
<polyline points="1841.6,719.9 1842.6,720.4 1843.5,721 1844.4,721.5 1845.3,722.1 1846.3,722.6 1847.2,723.2 1848.1,723.7 1849,724.2 1850,724.7 1850.9,725.2 1851.8,725.9 1852.7,726.3 1853.6,727 1854.6,727.4 1855.5,728 1856.4,728.6 1857.3,729.1 1858.2,729.6 1859.1,730.2 1860.1,730.8 1861,731.3 1861.9,731.8 1862.8,732.3 1863.7,732.9 1864.7,733.5 1865.6,734 1866.5,734.6 1867.4,735.1 1868.3,735.7 1869.3,736.2 1870.2,736.7 1871.1,737.3 1872,738 1872.9,738.5 1873.8,739 1874.8,739.5 1875.7,740 1876.6,740.6 1877.5,741.2 1878.4,741.7 1879.4,742.3 1880.3,742.9 1881.2,743.5 1882.1,744 1883,744.5 1883.9,745.2 1884.8,745.7 1885.8,746.3 1886.7,746.8 1887.6,747.3 1888.5,748 1889.4,748.6 1890.3,749.3 1891.2,749.8 1892.2,750.4 1893.1,751.1 1894,751.6 1894.9,752.1 1895.8,752.9 1896.7,753.6 1897.6,754.1 1898.5,754.8 1899.4,755.4 1900.3,756.1 1901.3,756.8 1902.2,757.5 1903.1,758.2 1904,758.9 1904.9,759.7 1905.8,760.5 1906.7,761.3 1907.6,762.1 1908.5,763 1909.5,763.9 1910.4,764.7 1911.3,765.6" fill="none" stroke="#000" stroke-width="14.809999999999999" stroke-linecap="round" stroke-linejoin="round"/>
<line x1="1181.6" y1="165" x2="1989.4" y2="809.3" stroke="#ff0000" stroke-width="8.5" stroke-dasharray="30.83 13.33"/>
<g fill="#2b9777">
<circle cx="1237.5" cy="228.7" r="5.35"/>
<circle cx="1293.3" cy="304.4" r="5.35"/>
<circle cx="1326" cy="348.9" r="5.35"/>
<circle cx="1349.2" cy="375" r="5.35"/>
<circle cx="1367.2" cy="380.1" r="5.35"/>
<circle cx="1381.9" cy="393.5" r="5.35"/>
<circle cx="1394.4" cy="407.9" r="5.35"/>
<circle cx="1405.1" cy="419.6" r="5.35"/>
<circle cx="1414.6" cy="424.6" r="5.35"/>
<circle cx="1423.1" cy="429.5" r="5.35"/>
<circle cx="1430.8" cy="437.8" r="5.35"/>
<circle cx="1437.8" cy="445.2" r="5.35"/>
<circle cx="1444.3" cy="450" r="5.35"/>
<circle cx="1450.3" cy="451.5" r="5.35"/>
<circle cx="1455.8" cy="454.7" r="5.35"/>
<circle cx="1461" cy="457.3" r="5.35"/>
<circle cx="1465.9" cy="462.7" r="5.35"/>
<circle cx="1470.5" cy="467.6" r="5.35"/>
<circle cx="1474.9" cy="467.4" r="5.35"/>
<circle cx="1479" cy="467.4" r="5.35"/>
<circle cx="1483" cy="472" r="5.35"/>
<circle cx="1486.7" cy="476.3" r="5.35"/>
<circle cx="1490.3" cy="480.3" r="5.35"/>
<circle cx="1493.7" cy="481.1" r="5.35"/>
<circle cx="1497" cy="484" r="5.35"/>
<circle cx="1500.2" cy="487.5" r="5.35"/>
<circle cx="1503.2" cy="490.9" r="5.35"/>
<circle cx="1506.2" cy="492.3" r="5.35"/>
<circle cx="1509" cy="492.2" r="5.35"/>
<circle cx="1511.7" cy="493.9" r="5.35"/>
<circle cx="1514.4" cy="496.9" r="5.35"/>
<circle cx="1516.9" cy="497" r="5.35"/>
<circle cx="1519.4" cy="499.7" r="5.35"/>
<circle cx="1521.8" cy="501.6" r="5.35"/>
<circle cx="1524.1" cy="502.4" r="5.35"/>
<circle cx="1526.4" cy="505" r="5.35"/>
<circle cx="1528.6" cy="507.5" r="5.35"/>
<circle cx="1530.8" cy="509.9" r="5.35"/>
<circle cx="1532.9" cy="509.8" r="5.35"/>
<circle cx="1534.9" cy="509.8" r="5.35"/>
<circle cx="1536.9" cy="512.2" r="5.35"/>
<circle cx="1538.8" cy="514.4" r="5.35"/>
<circle cx="1540.7" cy="516.6" r="5.35"/>
<circle cx="1542.6" cy="517" r="5.35"/>
<circle cx="1544.4" cy="516.9" r="5.35"/>
<circle cx="1546.2" cy="518.6" r="5.35"/>
<circle cx="1547.9" cy="520.6" r="5.35"/>
<circle cx="1549.6" cy="521.7" r="5.35"/>
<circle cx="1551.3" cy="522.5" r="5.35"/>
<circle cx="1552.9" cy="523.3" r="5.35"/>
<circle cx="1554.5" cy="523.3" r="5.35"/>
<circle cx="1556.1" cy="524.3" r="5.35"/>
<circle cx="1557.6" cy="526.1" r="5.35"/>
<circle cx="1559.1" cy="526.4" r="5.35"/>
<circle cx="1560.6" cy="527.9" r="5.35"/>
<circle cx="1562" cy="529.1" r="5.35"/>
<circle cx="1563.5" cy="529.6" r="5.35"/>
<circle cx="1564.9" cy="531.3" r="5.35"/>
<circle cx="1566.3" cy="532.9" r="5.35"/>
<circle cx="1567.6" cy="534.4" r="5.35"/>
<circle cx="1568.9" cy="534.4" r="5.35"/>
<circle cx="1570.3" cy="534.3" r="5.35"/>
<circle cx="1571.5" cy="534.4" r="5.35"/>
<circle cx="1572.8" cy="535.9" r="5.35"/>
<circle cx="1574.1" cy="537.5" r="5.35"/>
<circle cx="1575.3" cy="539" r="5.35"/>
<circle cx="1576.5" cy="539.1" r="5.35"/>
<circle cx="1577.7" cy="539.1" r="5.35"/>
<circle cx="1578.9" cy="539.1" r="5.35"/>
<circle cx="1580" cy="540.3" r="5.35"/>
<circle cx="1581.2" cy="541.7" r="5.35"/>
<circle cx="1582.3" cy="543.1" r="5.35"/>
<circle cx="1583.4" cy="543.7" r="5.35"/>
<circle cx="1584.5" cy="543.6" r="5.35"/>
<circle cx="1585.6" cy="544.4" r="5.35"/>
<circle cx="1586.7" cy="545.7" r="5.35"/>
<circle cx="1587.7" cy="547" r="5.35"/>
<circle cx="1588.8" cy="547.9" r="5.35"/>
<circle cx="1589.8" cy="547.8" r="5.35"/>
<circle cx="1590.8" cy="548.2" r="5.35"/>
<circle cx="1591.8" cy="549.5" r="5.35"/>
<circle cx="1592.8" cy="550.7" r="5.35"/>
<circle cx="1593.8" cy="551.8" r="5.35"/>
<circle cx="1594.7" cy="551.8" r="5.35"/>
<circle cx="1595.7" cy="551.7" r="5.35"/>
<circle cx="1596.6" cy="551.8" r="5.35"/>
<circle cx="1597.6" cy="552.6" r="5.35"/>
<circle cx="1598.5" cy="552.9" r="5.35"/>
<circle cx="1599.4" cy="554.1" r="5.35"/>
<circle cx="1600.3" cy="555.2" r="5.35"/>
<circle cx="1601.2" cy="555.4" r="5.35"/>
<circle cx="1602.1" cy="556.3" r="5.35"/>
<circle cx="1602.9" cy="557.4" r="5.35"/>
<circle cx="1603.8" cy="558.5" r="5.35"/>
<circle cx="1604.7" cy="558.9" r="5.35"/>
<circle cx="1605.5" cy="558.9" r="5.35"/>
<circle cx="1606.3" cy="558.8" r="5.35"/>
<circle cx="1607.2" cy="559.5" r="5.35"/>
<circle cx="1608" cy="560.5" r="5.35"/>
<circle cx="1608.8" cy="561.5" r="5.35"/>
<circle cx="1609.6" cy="562.2" r="5.35"/>
<circle cx="1610.4" cy="562.5" r="5.35"/>
<circle cx="1611.2" cy="563.5" r="5.35"/>
<circle cx="1612" cy="563.6" r="5.35"/>
<circle cx="1612.7" cy="563.6" r="5.35"/>
<circle cx="1613.5" cy="564.4" r="5.35"/>
<circle cx="1614.3" cy="565.3" r="5.35"/>
<circle cx="1615" cy="565.2" r="5.35"/>
<circle cx="1615.7" cy="565.2" r="5.35"/>
<circle cx="1616.5" cy="565.3" r="5.35"/>
<circle cx="1617.2" cy="566.2" r="5.35"/>
<circle cx="1617.9" cy="567.1" r="5.35"/>
<circle cx="1618.7" cy="568.1" r="5.35"/>
<circle cx="1619.4" cy="568.2" r="5.35"/>
<circle cx="1620.1" cy="568.1" r="5.35"/>
<circle cx="1620.8" cy="568.3" r="5.35"/>
<circle cx="1621.5" cy="568.9" r="5.35"/>
<circle cx="1622.1" cy="569.8" r="5.35"/>
<circle cx="1622.8" cy="570.6" r="5.35"/>
<circle cx="1623.5" cy="571" r="5.35"/>
</g>
<polyline points="1623.5,571 1624.8,571.4 1626.1,572.9 1627.4,573.6 1628.7,574.7 1630,576.3 1631.2,576.2 1632.4,576.2 1633.6,577.8 1634.8,578.6 1635.9,579.3 1637.1,580.8 1638.2,580.9 1639.3,580.9 1640.4,581.4 1641.5,582.8 1642.6,583.2 1643.6,584.2 1644.7,585.4 1645.7,585.4 1646.7,586.1 1647.7,587.5 1648.7,587.9 1649.7,588 1650.6,589.3 1651.6,589.5 1652.5,589.5 1653.5,590.5 1654.4,591.5 1655.3,592.3 1656.2,592.9 1657.5,593.4 1658.8,594.2 1660.1,595.1 1661.4,595.7 1662.7,597 1663.9,597.3 1665.1,598.7 1666.3,599.4 1667.5,600.4 1668.6,600.3 1669.8,600.9 1670.9,602 1672,603.5 1673.1,603.9 1674.2,605.1 1675.3,605 1676.3,605.3 1677.4,606.6 1678.4,606.6 1679.4,607.6 1680.4,608.5 1681.4,609.6 1682.4,609.5 1683.3,609.7 1684.3,610.7 1685.2,611.5 1686.2,612.3 1687.1,612.8 1688,613.6 1688.9,614 1690.1,614.8 1691.2,615.6 1692.4,616.8 1693.5,617.5 1694.7,617.9 1695.8,618.7 1696.9,619.4 1697.9,619.9 1699,621.1 1700,622 1701.1,622.1 1702.1,622.3 1703.1,623.3 1704.1,624.4 1705.1,624.4 1706,625.5 1707,626 1708,626.6 1708.9,627.3 1709.8,628 1710.7,628.7 1711.6,629.1 1712.8,629.9 1713.9,630.7 1715,631.1 1716,632.3 1717.1,632.9 1718.1,633.6 1719.2,634.4 1720.2,634.6 1721.2,635.4 1722.2,635.7 1723.2,636.3 1724.1,637.2 1725.1,638.1 1726,638.4 1727,639 1727.9,639.9 1728.8,640.6 1729.7,641.1 1730.8,641.5 1731.9,642.4 1732.9,643.2 1733.9,644 1735,644.8 1736,645.6 1737,646.2 1737.9,646.3 1738.9,647 1739.9,647.8 1740.8,648.5 1741.7,648.8 1742.7,649.7 1743.6,650.7 1744.5,650.8 1745.5,651.2 1746.6,652.1 1747.6,652.9 1748.6,653.5 1749.6,654.2 1750.5,654.8 1751.5,655.4 1752.5,656 1753.4,656.8 1754.4,657.4 1755.3,658 1756.2,658.7 1757.1,659.3 1758.1,659.7 1759.1,660.5 1760.1,661.1 1761.1,661.7 1762.1,662.5 1763,663.4 1764,663.4 1764.9,664 1765.8,664.7 1766.7,665.6 1767.6,665.9 1768.7,666.8 1769.6,667.3 1770.6,667.9 1771.6,668.9 1772.6,669.5 1773.5,670.2 1774.4,670.4 1775.4,671 1776.3,672 1777.2,672.1 1778.2,673 1779.2,673.9 1780.1,674.7 1781.1,675.1 1782,675.7 1783,676.3 1783.9,676.8 1784.8,677.5 1785.7,678.1 1786.7,678.9 1787.7,679.5 1788.6,679.9 1789.6,680.5 1790.5,681.3 1791.4,682.1 1792.4,682.5 1793.3,682.9 1794.2,683.8 1795.2,684.4 1796.2,685.1 1797.1,685.8 1798,686.6" fill="none" stroke="#2b9777" stroke-width="10.7" stroke-linecap="round" stroke-linejoin="round"/>
<polygon points="1795.2,677.7 1796.2,678.5 1797.1,679.2 1798,679.9 1798.9,680.5 1799.9,681.1 1800.8,681.3 1801.7,682.3 1802.7,682.7 1803.6,683.4 1804.5,684.2 1805.5,684.7 1806.4,685.7 1807.3,685.9 1808.3,686.4 1809.2,687.1 1810.2,688 1811.1,688.4 1812,689.1 1812.9,689.7 1813.9,690.3 1814.8,690.8 1815.8,691.6 1816.7,692.4 1817.6,692.9 1818.5,693.5 1819.4,694.2 1820.4,694.5 1821.3,695.2 1822.2,696 1823.1,696.4 1824.1,697.2 1825,697.8 1826,698.3 1826.9,698.9 1827.8,699.3 1828.7,700.1 1829.7,700.6 1830.6,701.5 1831.5,702 1832.4,702.7 1833.3,703.1 1834.3,703.9 1835.2,704.6 1836.1,705.3 1837,705.4 1838,706.2 1838.9,706.9 1839.8,707.6 1840.7,708.2 1841.6,708.8 1842.6,709.5 1843.5,710 1844.4,710.5 1845.3,711.2 1846.3,711.7 1847.2,712.4 1848.1,713 1849,713.7 1850,714.4 1850.9,714.7 1851.8,715.3 1852.7,716.1 1853.6,716.7 1854.6,717.3 1855.5,717.8 1856.4,718.6 1857.3,719 1858.2,719.6 1859.1,720.2 1860.1,721 1861,721.7 1861.9,722.3 1862.8,722.6 1863.7,723.3 1864.7,724.1 1865.6,724.6 1866.5,725 1867.4,725.9 1868.3,726.5 1869.3,727.1 1870.2,727.7 1871.1,728.1 1872,729 1872.9,729.6 1873.8,730.1 1874.8,730.7 1875.7,731.3 1876.6,731.8 1877.5,732.6 1878.4,733.2 1879.4,733.9 1880.3,734.4 1881.2,735.1 1882.1,735.7 1883,736.1 1883.9,736.9 1884.8,737.5 1885.8,738.2 1886.7,738.8 1887.6,739.3 1888.5,739.9 1889.4,740.5 1890.3,741.1 1891.2,741.7 1892.2,742.3 1893.1,743 1894,743.5 1894.9,744.2 1895.8,744.8 1896.7,745.4 1897.6,746.1 1898.5,746.7 1899.4,747.1 1900.3,747.8 1901.3,748.5 1902.2,749 1903.1,749.7 1904,750.3 1904.9,750.9 1905.8,751.5 1906.7,752.1 1907.6,752.8 1908.5,753.2 1909.5,753.9 1910.4,754.5 1911.3,755.1 1912.2,755.8 1913.1,756.2 1914,756.8 1914.9,757.4 1915.8,758.1 1916.7,758.7 1917.6,759.3 1918.5,759.9 1919.5,760.4 1920.4,761 1921.3,761.7 1922.2,762.3 1923.1,762.9 1924,763.5 1924.9,764 1925.8,764.6 1926.7,765.1 1927.6,765.8 1928.5,766.3 1929.4,767.1 1930.3,767.6 1931.2,768.3 1932.2,768.7 1933.1,769.3 1934,770 1934.9,770.6 1935.8,771.1 1936.7,771.8 1937.6,772.5 1938.5,773 1939.4,773.5 1940.3,774.1 1941.2,774.9 1942.1,775.4 1943,775.9 1943.9,776.6 1944.9,777.1 1945.8,777.7 1946.7,778.3 1947.6,779 1948.5,779.6 1949.4,780.1 1950.3,780.7 1951.2,781.3 1952.1,781.8 1953,782.5 1953.9,783.1 1954.8,783.7 1955.7,784.3 1956.6,784.8 1957.5,785.4 1958.4,786.1 1959.3,786.7 1960.2,787.3 1961.1,787.9 1962,788.5 1962.9,789.1 1963.9,789.6 1964.8,790.3 1965.7,790.9 1966.6,791.5 1967.5,792.1 1968.4,792.6 1969.3,793.3 1970.2,794 1971.1,794.7 1972,795.3 1972.9,796 1973.8,796.7 1974.7,797.4 1975.6,798 1976.5,798.6 1977.4,799.3 1978.3,800 1979.2,800.6 1980.1,801.3 1980.2,801.4 1980.2,814.4 1980.1,814.5 1979.2,813.9 1978.3,813.4 1977.4,812.8 1976.5,812.2 1975.6,811.7 1974.7,811.2 1973.8,810.6 1972.9,810.1 1972,809.5 1971.1,809 1970.2,808.5 1969.3,808 1968.4,807.5 1967.5,806.9 1966.6,806.3 1965.7,805.7 1964.8,805.1 1963.9,804.5 1962.9,803.9 1962,803.3 1961.1,802.7 1960.2,802.1 1959.3,801.5 1958.4,800.9 1957.5,800.2 1956.6,799.7 1955.7,799.1 1954.8,798.5 1953.9,797.9 1953,797.3 1952.1,796.6 1951.2,796.2 1950.3,795.5 1949.4,794.9 1948.5,794.4 1947.6,793.8 1946.7,793.1 1945.8,792.5 1944.9,791.9 1943.9,791.4 1943,790.7 1942.1,790.2 1941.2,789.6 1940.3,788.9 1939.4,788.4 1938.5,787.8 1937.6,787.3 1936.7,786.6 1935.8,785.9 1934.9,785.4 1934,784.7 1933.1,784.1 1932.2,783.5 1931.2,783.1 1930.3,782.5 1929.4,781.9 1928.5,781.1 1927.6,780.6 1926.7,780 1925.8,779.5 1924.9,778.8 1924,778.3 1923.1,777.7 1922.2,777.1 1921.3,776.5 1920.4,775.8 1919.5,775.3 1918.5,774.7 1917.6,774.1 1916.7,773.5 1915.8,772.9 1914.9,772.2 1914,771.6 1913.1,771 1912.2,770.6 1911.3,769.9 1910.4,769.3 1909.5,768.7 1908.5,768 1907.6,767.6 1906.7,766.9 1905.8,766.4 1904.9,765.7 1904,765.1 1903.1,764.5 1902.2,763.9 1901.3,763.3 1900.3,762.7 1899.4,762 1898.5,761.5 1897.6,760.9 1896.7,760.2 1895.8,759.7 1894.9,759.1 1894,758.4 1893.1,757.9 1892.2,757.2 1891.2,756.6 1890.3,755.9 1889.4,755.3 1888.5,754.8 1887.6,754.2 1886.7,753.7 1885.8,753.1 1884.8,752.4 1883.9,751.8 1883,751 1882.1,750.6 1881.2,749.9 1880.3,749.3 1879.4,748.7 1878.4,748.1 1877.5,747.5 1876.6,746.7 1875.7,746.1 1874.8,745.6 1873.8,745 1872.9,744.4 1872,743.8 1871.1,743 1870.2,742.6 1869.3,742 1868.3,741.3 1867.4,740.8 1866.5,739.9 1865.6,739.4 1864.7,738.8 1863.7,738.1 1862.8,737.4 1861.9,737 1861,736.4 1860.1,735.7 1859.1,734.9 1858.2,734.3 1857.3,733.6 1856.4,733.2 1855.5,732.4 1854.6,731.8 1853.6,731.2 1852.7,730.6 1851.8,729.7 1850.9,729.1 1850,728.8 1849,728.2 1848.1,727.3 1847.2,726.7 1846.3,726 1845.3,725.5 1844.4,724.8 1843.5,724.2 1842.6,723.7 1841.6,723 1840.7,722.3 1839.8,721.7 1838.9,721 1838,720.3 1837,719.5 1836.1,719.2 1835.2,718.6 1834.3,717.8 1833.3,717.1 1832.4,716.7 1831.5,715.9 1830.6,715.3 1829.7,714.5 1828.7,713.9 1827.8,713.1 1826.9,712.7 1826,712 1825,711.5 1824.1,711 1823.1,710.1 1822.2,709.6 1821.3,708.8 1820.4,708.2 1819.4,707.8 1818.5,707 1817.6,706.4 1816.7,705.9 1815.8,705 1814.8,704.3 1813.9,703.8 1812.9,703.2 1812,702.5 1811.1,701.8 1810.2,701.3 1809.2,700.3 1808.3,699.7 1807.3,699.2 1806.4,698.9 1805.5,698 1804.5,697.5 1803.6,696.7 1802.7,695.9 1801.7,695.6 1800.8,694.6 1799.9,694.3 1798.9,693.8 1798,693.2 1797.1,692.4 1796.2,691.8 1795.2,691" fill="#2b9777"/>
<polyline points="1293.3,341.6 1297.7,346.3 1302,350.9 1306.3,355.2 1310.6,359.5 1314.9,363.7 1319.3,367.8 1323.6,371.8 1327.9,375.7 1332.2,379.6 1336.5,383.4 1340.9,387.1 1345.2,390.8 1349.5,394.5 1353.8,398.1 1358.1,401.7 1362.5,405.3 1366.8,408.8 1371.1,412.3 1375.4,415.8 1379.7,419.2 1384.1,422.7 1388.4,426.1 1392.7,429.5 1397,432.8 1401.3,436.2 1405.7,439.5 1410,442.9 1414.3,446.2 1418.6,449.5 1422.9,452.8 1427.2,456.1 1431.6,459.4 1435.9,462.6 1440.2,465.9 1444.5,469.1 1448.8,472.4 1453.2,475.6 1457.5,478.8 1461.8,482.1 1466.1,485.3 1470.4,488.5 1474.8,491.7 1479.1,494.9 1483.4,498.1 1487.7,501.3 1492,504.4 1496.4,507.6 1500.7,510.8 1505,514 1509.3,517.1 1513.6,520.3 1518,523.4 1522.3,526.6 1526.6,529.8 1530.9,532.9 1535.2,536.1 1539.6,539.2 1543.9,542.3 1548.2,545.5 1552.5,548.6 1556.8,551.8 1561.2,554.9 1565.5,558 1569.8,561.2 1574.1,564.3 1578.4,567.4 1582.8,570.5 1587.1,573.7 1591.4,576.8 1595.7,579.9 1600,583 1604.4,586.1 1608.7,589.2 1613,592.4 1617.3,595.5 1621.6,598.6 1625.9,601.7 1630.3,604.8 1634.6,607.9 1638.9,611 1643.2,614.1 1647.5,617.3 1651.9,620.4 1656.2,623.5 1660.5,626.6 1664.8,629.7 1669.1,632.8 1673.5,635.9 1677.8,639 1682.1,642.1 1686.4,645.2 1690.7,648.3 1695.1,651.4 1699.4,654.5 1703.7,657.6 1708,660.7 1712.3,663.8 1716.7,666.9 1721,670 1725.3,673.1 1729.6,676.2 1733.9,679.3 1738.3,682.4 1742.6,685.5 1746.9,688.6 1751.2,691.7 1755.5,694.8 1759.9,697.9 1764.2,701 1768.5,704.1 1772.8,707.2 1777.1,710.3 1781.5,713.4 1785.8,716.5 1790.1,719.6 1794.4,722.7 1798.7,725.8 1803,728.9 1807.4,732 1811.7,735.1 1816,738.2 1820.3,741.3 1824.6,744.4 1829,747.5 1833.3,750.6 1837.6,753.7 1841.9,756.8 1846.2,759.9 1850.6,763 1854.9,766.1 1859.2,769.2 1863.5,772.3 1867.8,775.4 1872.2,778.5 1876.5,781.6 1880.8,784.7 1885.1,787.8 1889.4,790.9 1893.8,794 1898.1,797.1 1902.4,800.2 1906.7,803.3 1911,806.4 1915.4,809.5 1919.7,812.6 1924,815.7 1928.3,818.8 1932.6,821.9 1937,825 1941.3,828.2 1945.6,831.3 1949.9,834.4 1954.2,837.5 1958.6,840.6 1962.9,843.7 1967.2,846.8 1971.5,849.9 1975.8,853 1980.2,856.1" fill="none" stroke="#6666ff" stroke-width="8.5" stroke-linecap="square" stroke-linejoin="round"/>
</g>
<g stroke="#b0b0b0" stroke-opacity="0.21" stroke-width="2">
<line x1="2161" y1="167.5" x2="2161" y2="932.5"/>
<line x1="2346" y1="167.5" x2="2346" y2="932.5"/>
<line x1="2532" y1="167.5" x2="2532" y2="932.5"/>
<line x1="2718" y1="167.5" x2="2718" y2="932.5"/>
<line x1="2105.5" y1="209" x2="2903.5" y2="209"/>
<line x1="2105.5" y1="308" x2="2903.5" y2="308"/>
<line x1="2105.5" y1="407" x2="2903.5" y2="407"/>
<line x1="2105.5" y1="505" x2="2903.5" y2="505"/>
<line x1="2105.5" y1="604" x2="2903.5" y2="604"/>
<line x1="2105.5" y1="703" x2="2903.5" y2="703"/>
<line x1="2105.5" y1="801" x2="2903.5" y2="801"/>
<line x1="2105.5" y1="900" x2="2903.5" y2="900"/>
</g>
<g clip-path="url(#c2)">
<g fill="#000">
<circle cx="2161.2" cy="219.7" r="6.3"/>
<circle cx="2217" cy="327.3" r="6.3"/>
<circle cx="2249.7" cy="367.4" r="6.3"/>
<circle cx="2272.9" cy="392.3" r="6.3"/>
<circle cx="2290.9" cy="410.2" r="6.3"/>
<circle cx="2305.6" cy="424.3" r="6.3"/>
<circle cx="2318.1" cy="435" r="6.3"/>
<circle cx="2328.8" cy="435.9" r="6.3"/>
<circle cx="2338.3" cy="445.7" r="6.3"/>
<circle cx="2346.8" cy="454.2" r="6.3"/>
<circle cx="2354.5" cy="461.7" r="6.3"/>
<circle cx="2361.5" cy="468.4" r="6.3"/>
<circle cx="2368" cy="474.5" r="6.3"/>
<circle cx="2374" cy="475" r="6.3"/>
<circle cx="2379.5" cy="480" r="6.3"/>
<circle cx="2384.7" cy="485.1" r="6.3"/>
<circle cx="2389.6" cy="489.8" r="6.3"/>
<circle cx="2394.2" cy="494.2" r="6.3"/>
<circle cx="2398.6" cy="498.3" r="6.3"/>
<circle cx="2402.7" cy="499.7" r="6.3"/>
<circle cx="2406.7" cy="502.1" r="6.3"/>
<circle cx="2410.4" cy="505.8" r="6.3"/>
<circle cx="2414" cy="509.2" r="6.3"/>
<circle cx="2417.4" cy="512.5" r="6.3"/>
<circle cx="2420.7" cy="514.8" r="6.3"/>
<circle cx="2423.9" cy="515.5" r="6.3"/>
<circle cx="2426.9" cy="517.4" r="6.3"/>
<circle cx="2429.9" cy="518.5" r="6.3"/>
<circle cx="2432.7" cy="521.3" r="6.3"/>
<circle cx="2435.4" cy="524" r="6.3"/>
<circle cx="2438.1" cy="526.6" r="6.3"/>
<circle cx="2440.6" cy="529.1" r="6.3"/>
<circle cx="2443.1" cy="531.3" r="6.3"/>
<circle cx="2445.5" cy="531.4" r="6.3"/>
<circle cx="2447.8" cy="533.7" r="6.3"/>
<circle cx="2450.1" cy="535.9" r="6.3"/>
<circle cx="2452.3" cy="538.1" r="6.3"/>
<circle cx="2454.5" cy="539.2" r="6.3"/>
<circle cx="2456.6" cy="540.1" r="6.3"/>
<circle cx="2458.6" cy="541.8" r="6.3"/>
<circle cx="2460.6" cy="542.1" r="6.3"/>
<circle cx="2462.5" cy="542.6" r="6.3"/>
<circle cx="2464.4" cy="544.1" r="6.3"/>
<circle cx="2466.3" cy="546" r="6.3"/>
<circle cx="2468.1" cy="547.8" r="6.3"/>
<circle cx="2469.9" cy="549.6" r="6.3"/>
<circle cx="2471.6" cy="551.3" r="6.3"/>
<circle cx="2473.3" cy="552.3" r="6.3"/>
<circle cx="2475" cy="553" r="6.3"/>
<circle cx="2476.6" cy="554.6" r="6.3"/>
<circle cx="2478.2" cy="556.2" r="6.3"/>
<circle cx="2479.8" cy="556.8" r="6.3"/>
<circle cx="2481.3" cy="557.8" r="6.3"/>
<circle cx="2482.8" cy="559.3" r="6.3"/>
<circle cx="2484.3" cy="560.6" r="6.3"/>
<circle cx="2485.7" cy="560.8" r="6.3"/>
<circle cx="2487.2" cy="562.2" r="6.3"/>
<circle cx="2488.6" cy="563.6" r="6.3"/>
<circle cx="2490" cy="563.6" r="6.3"/>
<circle cx="2491.3" cy="565" r="6.3"/>
<circle cx="2492.6" cy="566.4" r="6.3"/>
<circle cx="2494" cy="567.7" r="6.3"/>
<circle cx="2495.2" cy="567.9" r="6.3"/>
<circle cx="2496.5" cy="569" r="6.3"/>
<circle cx="2497.8" cy="570.3" r="6.3"/>
<circle cx="2499" cy="570.6" r="6.3"/>
<circle cx="2500.2" cy="571.5" r="6.3"/>
<circle cx="2501.4" cy="572.7" r="6.3"/>
<circle cx="2502.6" cy="573.9" r="6.3"/>
<circle cx="2503.7" cy="574.5" r="6.3"/>
<circle cx="2504.9" cy="575.1" r="6.3"/>
<circle cx="2506" cy="576.3" r="6.3"/>
<circle cx="2507.1" cy="577.4" r="6.3"/>
<circle cx="2508.2" cy="578.5" r="6.3"/>
<circle cx="2509.3" cy="579.6" r="6.3"/>
<circle cx="2510.4" cy="580.5" r="6.3"/>
<circle cx="2511.4" cy="580.7" r="6.3"/>
<circle cx="2512.5" cy="581.1" r="6.3"/>
<circle cx="2513.5" cy="581.2" r="6.3"/>
<circle cx="2514.5" cy="581.7" r="6.3"/>
<circle cx="2515.5" cy="581.9" r="6.3"/>
<circle cx="2516.5" cy="582.8" r="6.3"/>
<circle cx="2517.5" cy="583.8" r="6.3"/>
<circle cx="2518.4" cy="584.8" r="6.3"/>
<circle cx="2519.4" cy="585.8" r="6.3"/>
<circle cx="2520.3" cy="585.9" r="6.3"/>
<circle cx="2521.3" cy="586.8" r="6.3"/>
<circle cx="2522.2" cy="587.7" r="6.3"/>
<circle cx="2523.1" cy="588.7" r="6.3"/>
<circle cx="2524" cy="589.6" r="6.3"/>
<circle cx="2524.9" cy="590.5" r="6.3"/>
<circle cx="2525.8" cy="591" r="6.3"/>
<circle cx="2526.6" cy="591.4" r="6.3"/>
<circle cx="2527.5" cy="591.5" r="6.3"/>
<circle cx="2528.4" cy="592.3" r="6.3"/>
<circle cx="2529.2" cy="593.2" r="6.3"/>
<circle cx="2530" cy="594.1" r="6.3"/>
<circle cx="2530.9" cy="594.9" r="6.3"/>
<circle cx="2531.7" cy="594.9" r="6.3"/>
<circle cx="2532.5" cy="595.6" r="6.3"/>
<circle cx="2533.3" cy="595.8" r="6.3"/>
<circle cx="2534.1" cy="596.6" r="6.3"/>
<circle cx="2534.9" cy="597.4" r="6.3"/>
<circle cx="2535.7" cy="598.3" r="6.3"/>
<circle cx="2536.4" cy="598.7" r="6.3"/>
<circle cx="2537.2" cy="599" r="6.3"/>
<circle cx="2538" cy="599.8" r="6.3"/>
<circle cx="2538.7" cy="599.8" r="6.3"/>
<circle cx="2539.4" cy="599.9" r="6.3"/>
<circle cx="2540.2" cy="600.6" r="6.3"/>
<circle cx="2540.9" cy="601.4" r="6.3"/>
<circle cx="2541.6" cy="602.1" r="6.3"/>
<circle cx="2542.4" cy="602.9" r="6.3"/>
<circle cx="2543.1" cy="603.6" r="6.3"/>
<circle cx="2543.8" cy="604" r="6.3"/>
<circle cx="2544.5" cy="604.4" r="6.3"/>
<circle cx="2545.2" cy="605.1" r="6.3"/>
<circle cx="2545.8" cy="605.3" r="6.3"/>
<circle cx="2546.5" cy="605.8" r="6.3"/>
<circle cx="2547.2" cy="606.2" r="6.3"/>
</g>
<polyline points="2547.2,606.2 2548.5,607.2 2549.8,607.8 2551.1,608.6 2552.4,609.9 2553.7,611.3 2554.9,611.9 2556.1,612.5 2557.3,613.7 2558.5,614.4 2559.6,615 2560.8,615.7 2561.9,616.8 2563,617.9 2564.1,618.6 2565.2,619.6 2566.3,620.2 2567.3,620.9 2568.4,621.4 2569.4,622.5 2570.4,623.1 2571.4,623.6 2572.4,624 2573.4,624.6 2574.3,625.1 2575.3,626.1 2576.2,626.6 2577.2,627.2 2578.1,628.2 2579,629.2 2579.9,629.7 2581.2,630.6 2582.5,631.5 2583.8,632.5 2585.1,633.4 2586.4,634.3 2587.6,635.2 2588.8,636.4 2590,636.9 2591.2,637.7 2592.3,638.6 2593.5,639 2594.6,640.2 2595.7,641 2596.8,641.8 2597.9,642.8 2599,643.4 2600,644.1 2601.1,644.9 2602.1,645.6 2603.1,646.5 2604.1,646.7 2605.1,647.4 2606.1,648.2 2607,648.5 2608,648.9 2608.9,649.9 2609.9,650.6 2610.8,651.3 2611.7,652.3 2612.6,652.9 2613.8,653.8 2614.9,654.5 2616.1,655.2 2617.2,656.1 2618.4,656.8 2619.5,657.6 2620.6,658.3 2621.6,659.1 2622.7,659.7 2623.7,660.7 2624.8,661.3 2625.8,662 2626.8,662.6 2627.8,663.4 2628.8,664.2 2629.7,665 2630.7,665.6 2631.7,666.1 2632.6,666.6 2633.5,667.4 2634.4,667.9 2635.3,668.4 2636.5,669.4 2637.6,670.2 2638.7,670.9 2639.7,671.8 2640.8,672.5 2641.8,673.2 2642.9,674.1 2643.9,674.7 2644.9,675.3 2645.9,676 2646.9,676.9 2647.8,677.5 2648.8,678.4 2649.7,679 2650.7,679.4 2651.6,680.1 2652.5,680.9 2653.4,681.5 2654.5,682.3 2655.6,683.1 2656.6,683.5 2657.6,684.3 2658.7,684.8 2659.7,685.4 2660.7,686.2 2661.6,687 2662.6,687.6 2663.6,688.6 2664.5,688.9 2665.4,689.6 2666.4,690.3 2667.3,690.8 2668.2,691.5 2669.2,692.4 2670.3,693.2 2671.3,693.9 2672.3,694.5 2673.3,695.2 2674.2,696 2675.2,696.6 2676.2,697.2 2677.1,698 2678.1,698.6 2679,699.2 2679.9,699.7 2680.8,700.4 2681.8,701.2 2682.8,701.9 2683.8,702.6 2684.8,703 2685.8,703.7 2686.7,704.4 2687.7,705.1 2688.6,705.8 2689.5,706.6 2690.4,707.1 2691.3,707.8 2692.4,708.4 2693.3,709 2694.3,709.8 2695.3,710.3 2696.3,710.9 2697.2,711.8 2698.1,712.4 2699.1,713 2700,713.7 2700.9,714.4 2701.9,715 2702.9,715.6 2703.8,716.2 2704.8,716.9 2705.7,717.5 2706.7,718.2 2707.6,718.9 2708.5,719.6 2709.4,720.3 2710.4,720.9 2711.4,721.4 2712.3,722.1 2713.3,722.9 2714.2,723.4 2715.1,724 2716.1,724.7 2717,725.3 2717.9,725.9 2718.9,726.6 2719.9,727.1 2720.8,727.8 2721.7,728.5" fill="none" stroke="#000" stroke-width="12.6" stroke-linecap="round" stroke-linejoin="round"/>
<polyline points="2718.9,726.6 2719.9,727.1 2720.8,727.8 2721.7,728.5 2722.6,729.1 2723.6,729.8 2724.5,730.4 2725.4,731.1 2726.4,731.6 2727.3,732.2 2728.2,732.9 2729.2,733.6 2730.1,734.1 2731,734.8 2732,735.3 2732.9,736 2733.9,736.6 2734.8,737.3 2735.7,737.8 2736.6,738.4 2737.6,739 2738.5,739.7 2739.5,740.3 2740.4,740.8 2741.3,741.4 2742.2,742 2743.1,742.7 2744.1,743.3 2745,743.9 2745.9,744.5 2746.8,745 2747.8,745.6 2748.7,746.3 2749.7,746.9 2750.6,747.3 2751.5,748 2752.4,748.5 2753.4,749.1 2754.3,749.7 2755.2,750.3 2756.1,750.9 2757,751.5 2758,752.2 2758.9,752.7 2759.8,753.2 2760.7,753.9 2761.7,754.5 2762.6,755 2763.5,755.6 2764.4,756.2 2765.3,756.8 2766.3,757.4 2767.2,758 2768.1,758.5 2769,759.1 2770,759.8 2770.9,760.3 2771.8,760.9 2772.7,761.4 2773.7,762 2774.6,762.6 2775.5,763.1 2776.4,763.7 2777.3,764.4 2778.3,764.9 2779.2,765.5 2780.1,766.1 2781,766.7 2781.9,767.2 2782.8,767.8 2783.8,768.5 2784.7,769 2785.6,769.7 2786.5,770.2 2787.4,770.8 2788.4,771.4 2789.3,772 2790.2,772.5 2791.1,773.1 2792,773.7 2793,774.3 2793.9,774.9 2794.8,775.5 2795.7,776.2 2796.6,776.7 2797.5,777.3 2798.5,777.9 2799.4,778.5 2800.3,779.1 2801.2,779.7 2802.1,780.3 2803.1,781 2804,781.6 2804.9,782.1 2805.8,782.7 2806.7,783.3 2807.6,783.9 2808.5,784.6 2809.5,785.2 2810.4,785.8 2811.3,786.4 2812.2,787.1 2813.1,787.7 2814,788.4 2814.9,789 2815.9,789.7 2816.8,790.4 2817.7,791 2818.6,791.7 2819.5,792.3 2820.4,793 2821.3,793.7 2822.2,794.4 2823.1,795.1 2824,795.8 2825,796.6 2825.9,797.3 2826.8,798.1 2827.7,798.9 2828.6,799.8 2829.5,800.7 2830.4,801.5 2831.3,802.4 2832.2,803.3 2833.2,804.2 2834.1,805.2 2835,806.3 2835.9,807.3 2836.8,808.4 2837.7,809.6 2838.6,810.8 2839.5,812 2840.4,813.4 2841.3,814.7 2842.2,816.1 2843.2,817.7 2844.1,819.3 2845,820.9 2845.9,822.7 2846.8,824.6 2847.7,826.5 2848,827.2" fill="none" stroke="#000" stroke-width="12.6" stroke-linecap="round" stroke-linejoin="round"/>
<polyline points="2765.3,756.8 2766.3,757.4 2767.2,758 2768.1,758.5 2769,759.1 2770,759.8 2770.9,760.3 2771.8,760.9 2772.7,761.4 2773.7,762 2774.6,762.6 2775.5,763.1 2776.4,763.7 2777.3,764.4 2778.3,764.9 2779.2,765.5 2780.1,766.1 2781,766.7 2781.9,767.2 2782.8,767.8 2783.8,768.5 2784.7,769 2785.6,769.7 2786.5,770.2 2787.4,770.8 2788.4,771.4 2789.3,772 2790.2,772.5 2791.1,773.1 2792,773.7 2793,774.3 2793.9,774.9 2794.8,775.5 2795.7,776.2 2796.6,776.7 2797.5,777.3 2798.5,777.9 2799.4,778.5 2800.3,779.1 2801.2,779.7 2802.1,780.3 2803.1,781 2804,781.6 2804.9,782.1 2805.8,782.7 2806.7,783.3 2807.6,783.9 2808.5,784.6 2809.5,785.2 2810.4,785.8 2811.3,786.4 2812.2,787.1 2813.1,787.7 2814,788.4 2814.9,789 2815.9,789.7 2816.8,790.4 2817.7,791 2818.6,791.7 2819.5,792.3 2820.4,793 2821.3,793.7 2822.2,794.4 2823.1,795.1 2824,795.8 2825,796.6 2825.9,797.3 2826.8,798.1 2827.7,798.9 2828.6,799.8 2829.5,800.7 2830.4,801.5 2831.3,802.4 2832.2,803.3 2833.2,804.2 2834.1,805.2 2835,806.3" fill="none" stroke="#000" stroke-width="14.809999999999999" stroke-linecap="round" stroke-linejoin="round"/>
<line x1="2105.3" y1="165" x2="2913.1" y2="809.3" stroke="#ff0000" stroke-width="8.5" stroke-dasharray="30.83 13.33"/>
<g fill="#2b9777">
<circle cx="2161.2" cy="220.3" r="5.35"/>
<circle cx="2217" cy="320.7" r="5.35"/>
<circle cx="2249.7" cy="365.3" r="5.35"/>
<circle cx="2272.9" cy="391.3" r="5.35"/>
<circle cx="2290.9" cy="409.8" r="5.35"/>
<circle cx="2305.6" cy="421.1" r="5.35"/>
<circle cx="2318.1" cy="424.2" r="5.35"/>
<circle cx="2328.8" cy="435.9" r="5.35"/>
<circle cx="2338.3" cy="445.8" r="5.35"/>
<circle cx="2346.8" cy="454.4" r="5.35"/>
<circle cx="2354.5" cy="461.9" r="5.35"/>
<circle cx="2361.5" cy="465.5" r="5.35"/>
<circle cx="2368" cy="468.5" r="5.35"/>
<circle cx="2374" cy="474.6" r="5.35"/>
<circle cx="2379.5" cy="480.1" r="5.35"/>
<circle cx="2384.7" cy="485.1" r="5.35"/>
<circle cx="2389.6" cy="489.8" r="5.35"/>
<circle cx="2394.2" cy="491.1" r="5.35"/>
<circle cx="2398.6" cy="494.1" r="5.35"/>
<circle cx="2402.7" cy="498.2" r="5.35"/>
<circle cx="2406.7" cy="502" r="5.35"/>
<circle cx="2410.4" cy="505.6" r="5.35"/>
<circle cx="2414" cy="509" r="5.35"/>
<circle cx="2417.4" cy="509.1" r="5.35"/>
<circle cx="2420.7" cy="509.1" r="5.35"/>
<circle cx="2423.9" cy="512.1" r="5.35"/>
<circle cx="2426.9" cy="515.2" r="5.35"/>
<circle cx="2429.9" cy="518.1" r="5.35"/>
<circle cx="2432.7" cy="520" r="5.35"/>
<circle cx="2435.4" cy="520.9" r="5.35"/>
<circle cx="2438.1" cy="523" r="5.35"/>
<circle cx="2440.6" cy="523.5" r="5.35"/>
<circle cx="2443.1" cy="526.1" r="5.35"/>
<circle cx="2445.5" cy="528.5" r="5.35"/>
<circle cx="2447.8" cy="530.9" r="5.35"/>
<circle cx="2450.1" cy="533.2" r="5.35"/>
<circle cx="2452.3" cy="534.4" r="5.35"/>
<circle cx="2454.5" cy="534.4" r="5.35"/>
<circle cx="2456.6" cy="535.3" r="5.35"/>
<circle cx="2458.6" cy="537.4" r="5.35"/>
<circle cx="2460.6" cy="539.5" r="5.35"/>
<circle cx="2462.5" cy="541.5" r="5.35"/>
<circle cx="2464.4" cy="543.4" r="5.35"/>
<circle cx="2466.3" cy="544" r="5.35"/>
<circle cx="2468.1" cy="545.2" r="5.35"/>
<circle cx="2469.9" cy="547.1" r="5.35"/>
<circle cx="2471.6" cy="548.8" r="5.35"/>
<circle cx="2473.3" cy="550.6" r="5.35"/>
<circle cx="2475" cy="552.2" r="5.35"/>
<circle cx="2476.6" cy="552.4" r="5.35"/>
<circle cx="2478.2" cy="552.3" r="5.35"/>
<circle cx="2479.8" cy="553.8" r="5.35"/>
<circle cx="2481.3" cy="555.4" r="5.35"/>
<circle cx="2482.8" cy="556.9" r="5.35"/>
<circle cx="2484.3" cy="558.4" r="5.35"/>
<circle cx="2485.7" cy="559.7" r="5.35"/>
<circle cx="2487.2" cy="559.7" r="5.35"/>
<circle cx="2488.6" cy="559.8" r="5.35"/>
<circle cx="2490" cy="561.3" r="5.35"/>
<circle cx="2491.3" cy="562.7" r="5.35"/>
<circle cx="2492.6" cy="563.2" r="5.35"/>
<circle cx="2494" cy="564" r="5.35"/>
<circle cx="2495.2" cy="565.4" r="5.35"/>
<circle cx="2496.5" cy="566.2" r="5.35"/>
<circle cx="2497.8" cy="566.2" r="5.35"/>
<circle cx="2499" cy="566.6" r="5.35"/>
<circle cx="2500.2" cy="567.9" r="5.35"/>
<circle cx="2501.4" cy="569.2" r="5.35"/>
<circle cx="2502.6" cy="570.4" r="5.35"/>
<circle cx="2503.7" cy="571.6" r="5.35"/>
<circle cx="2504.9" cy="572.1" r="5.35"/>
<circle cx="2506" cy="572.8" r="5.35"/>
<circle cx="2507.1" cy="574" r="5.35"/>
<circle cx="2508.2" cy="575.1" r="5.35"/>
<circle cx="2509.3" cy="576.3" r="5.35"/>
<circle cx="2510.4" cy="577.4" r="5.35"/>
<circle cx="2511.4" cy="577.5" r="5.35"/>
<circle cx="2512.5" cy="577.5" r="5.35"/>
<circle cx="2513.5" cy="577.5" r="5.35"/>
<circle cx="2514.5" cy="578.4" r="5.35"/>
<circle cx="2515.5" cy="579.4" r="5.35"/>
<circle cx="2516.5" cy="580.5" r="5.35"/>
<circle cx="2517.5" cy="581.5" r="5.35"/>
<circle cx="2518.4" cy="582.5" r="5.35"/>
<circle cx="2519.4" cy="582.5" r="5.35"/>
<circle cx="2520.3" cy="583.5" r="5.35"/>
<circle cx="2521.3" cy="584.5" r="5.35"/>
<circle cx="2522.2" cy="585.5" r="5.35"/>
<circle cx="2523.1" cy="586.4" r="5.35"/>
<circle cx="2524" cy="587.1" r="5.35"/>
<circle cx="2524.9" cy="587" r="5.35"/>
<circle cx="2525.8" cy="587.3" r="5.35"/>
<circle cx="2526.6" cy="588.3" r="5.35"/>
<circle cx="2527.5" cy="588.3" r="5.35"/>
<circle cx="2528.4" cy="589.2" r="5.35"/>
<circle cx="2529.2" cy="590.1" r="5.35"/>
<circle cx="2530" cy="590.9" r="5.35"/>
<circle cx="2530.9" cy="591.3" r="5.35"/>
<circle cx="2531.7" cy="591.3" r="5.35"/>
<circle cx="2532.5" cy="591.8" r="5.35"/>
<circle cx="2533.3" cy="592.6" r="5.35"/>
<circle cx="2534.1" cy="593.5" r="5.35"/>
<circle cx="2534.9" cy="594.3" r="5.35"/>
<circle cx="2535.7" cy="595.2" r="5.35"/>
<circle cx="2536.4" cy="595.3" r="5.35"/>
<circle cx="2537.2" cy="595.3" r="5.35"/>
<circle cx="2538" cy="595.3" r="5.35"/>
<circle cx="2538.7" cy="595.9" r="5.35"/>
<circle cx="2539.4" cy="596.7" r="5.35"/>
<circle cx="2540.2" cy="597.5" r="5.35"/>
<circle cx="2540.9" cy="598.3" r="5.35"/>
<circle cx="2541.6" cy="599" r="5.35"/>
<circle cx="2542.4" cy="599.1" r="5.35"/>
<circle cx="2543.1" cy="599.8" r="5.35"/>
<circle cx="2543.8" cy="600.6" r="5.35"/>
<circle cx="2544.5" cy="601.3" r="5.35"/>
<circle cx="2545.2" cy="602.1" r="5.35"/>
<circle cx="2545.8" cy="602.6" r="5.35"/>
<circle cx="2546.5" cy="602.6" r="5.35"/>
<circle cx="2547.2" cy="602.5" r="5.35"/>
</g>
<polyline points="2547.2,602.5 2548.5,603.5 2549.8,604.9 2551.1,605.9 2552.4,606 2553.7,606.9 2554.9,608.2 2556.1,609 2557.3,609 2558.5,610.1 2559.6,611.4 2560.8,612 2561.9,612.6 2563,613.8 2564.1,614.9 2565.2,615 2566.3,616.1 2567.3,616.7 2568.4,617.6 2569.4,618.4 2570.4,619.5 2571.4,620 2572.4,620.1 2573.4,620.1 2574.3,621 2575.3,622.1 2576.2,622.6 2577.2,623.1 2578.1,624.1 2579,625 2579.9,625.1 2581.2,626.6 2582.5,627.3 2583.8,628.5 2585.1,629.5 2586.4,629.8 2587.6,630.8 2588.8,631.6 2590,632.5 2591.2,633.7 2592.3,633.7 2593.5,634.6 2594.6,635.7 2595.7,636.7 2596.8,637.6 2597.9,637.8 2599,639.1 2600,639.5 2601.1,640.2 2602.1,641.3 2603.1,641.7 2604.1,642.8 2605.1,643.2 2606.1,644.3 2607,644.8 2608,644.7 2608.9,645.6 2609.9,646.4 2610.8,647.4 2611.7,648 2612.6,648.2 2613.8,649 2614.9,649.7 2616.1,651 2617.2,651.1 2618.4,652.2 2619.5,653.1 2620.6,654.1 2621.6,654.3 2622.7,655.3 2623.7,655.8 2624.8,656.9 2625.8,657.3 2626.8,658.2 2627.8,658.7 2628.8,659.5 2629.7,660.1 2630.7,660.9 2631.7,661.6 2632.6,662.1 2633.5,662.2 2634.4,663.2 2635.3,663.7 2636.5,664.5 2637.6,665.5 2638.7,666.3 2639.7,666.9 2640.8,667.7 2641.8,668.7 2642.9,669.2 2643.9,670.1 2644.9,670.8 2645.9,671.4 2646.9,672.1 2647.8,672.6 2648.8,673 2649.7,673.6 2650.7,674.5 2651.6,675.6 2652.5,675.5 2653.4,676.4 2654.5,677.4 2655.6,678.1 2656.6,678.7 2657.6,679.4 2658.7,680.3 2659.7,681 2660.7,681.4 2661.6,682.2 2662.6,683.1 2663.6,683.5 2664.5,684.2 2665.4,684.8 2666.4,685.7 2667.3,686.2 2668.2,686.5 2669.2,687.3 2670.3,688.2 2671.3,689 2672.3,689.8 2673.3,689.9 2674.2,690.8 2675.2,691.3 2676.2,692.2 2677.1,692.9 2678.1,693.6 2679,694.1 2679.9,694.9 2680.8,695.8 2681.8,696.1 2682.8,697 2683.8,697.3 2684.8,698.2 2685.8,698.7 2686.7,699.7 2687.7,700 2688.6,700.6 2689.5,701.3 2690.4,701.9 2691.3,702.8 2692.4,703.4 2693.3,703.8 2694.3,704.6 2695.3,705.4 2696.3,706.2 2697.2,706.4 2698.1,707.4 2699.1,708 2700,708.7 2700.9,709.3 2701.9,709.9 2702.9,710.9 2703.8,711.3 2704.8,712.1 2705.7,712.7 2706.7,713.2 2707.6,714.1 2708.5,714.4 2709.4,715 2710.4,715.8 2711.4,716.5 2712.3,717.3 2713.3,717.6 2714.2,718.3 2715.1,719.2 2716.1,719.8 2717,720.3 2717.9,721.3 2718.9,721.7 2719.9,722.4 2720.8,723.1 2721.7,723.7" fill="none" stroke="#2b9777" stroke-width="10.7" stroke-linecap="round" stroke-linejoin="round"/>
<polygon points="2718.9,715.2 2719.9,715.9 2720.8,716.6 2721.7,717.2 2722.6,717.8 2723.6,718.4 2724.5,719 2725.4,719.6 2726.4,720.3 2727.3,721.1 2728.2,721.6 2729.2,722 2730.1,722.8 2731,723.4 2732,724.2 2732.9,725 2733.9,725.4 2734.8,726 2735.7,726.5 2736.6,727.3 2737.6,728 2738.5,728.7 2739.5,729.3 2740.4,729.8 2741.3,730.6 2742.2,731.1 2743.1,731.9 2744.1,732.2 2745,733 2745.9,733.7 2746.8,734.3 2747.8,735 2748.7,735.5 2749.7,736.2 2750.6,736.9 2751.5,737.6 2752.4,738.2 2753.4,738.7 2754.3,739.3 2755.2,740 2756.1,740.7 2757,741.3 2758,741.9 2758.9,742.5 2759.8,743.2 2760.7,743.8 2761.7,744.2 2762.6,745.1 2763.5,745.7 2764.4,746.2 2765.3,747 2766.3,747.5 2767.2,748.3 2768.1,748.9 2769,749.3 2770,749.9 2770.9,750.7 2771.8,751.3 2772.7,751.9 2773.7,752.5 2774.6,753.2 2775.5,753.9 2776.4,754.5 2777.3,755.1 2778.3,755.8 2779.2,756.3 2780.1,757 2781,757.7 2781.9,758.3 2782.8,758.8 2783.8,759.5 2784.7,760.1 2785.6,760.7 2786.5,761.4 2787.4,762.1 2788.4,762.6 2789.3,763.1 2790.2,763.9 2791.1,764.5 2792,765.2 2793,765.7 2793.9,766.5 2794.8,767.1 2795.7,767.7 2796.6,768.3 2797.5,769 2798.5,769.6 2799.4,770.2 2800.3,770.9 2801.2,771.6 2802.1,772.2 2803.1,772.9 2804,773.4 2804.9,773.9 2805.8,774.7 2806.7,775.2 2807.6,776 2808.5,776.5 2809.5,777.2 2810.4,777.9 2811.3,778.5 2812.2,779.2 2813.1,779.8 2814,780.4 2814.9,780.9 2815.9,781.6 2816.8,782.3 2817.7,782.9 2818.6,783.5 2819.5,784.1 2820.4,784.8 2821.3,785.4 2822.2,786 2823.1,786.7 2824,787.2 2825,787.8 2825.9,788.5 2826.8,789.1 2827.7,789.8 2828.6,790.4 2829.5,790.9 2830.4,791.6 2831.3,792.3 2832.2,792.9 2833.2,793.5 2834.1,794.1 2835,794.8 2835.9,795.4 2836.8,796 2837.7,796.8 2838.6,797.4 2839.5,798 2840.4,798.5 2841.3,799.2 2842.2,799.8 2843.2,800.4 2844.1,801 2845,801.5 2845.9,802.2 2846.8,802.9 2847.7,803.5 2848.6,804.2 2849.5,804.7 2850.4,805.4 2851.3,806 2852.2,806.6 2853.1,807.2 2854,807.9 2854.9,808.4 2855.9,809.1 2856.8,809.7 2857.7,810.3 2858.6,810.9 2859.5,811.6 2860.4,812.1 2861.3,812.9 2862.2,813.5 2863.1,814.1 2864,814.7 2864.9,815.2 2865.8,815.9 2866.7,816.6 2867.6,817.2 2868.6,817.8 2869.5,818.4 2870.4,819 2871.3,819.7 2872.2,820.3 2873.1,820.9 2874,821.5 2874.9,822.1 2875.8,822.8 2876.7,823.3 2877.6,824.1 2878.5,824.6 2879.4,825.3 2880.3,825.8 2881.2,826.5 2882.1,827.2 2883,827.7 2883.9,828.4 2884.8,829 2885.7,829.5 2886.6,830.2 2887.6,830.9 2888.5,831.5 2889.4,832.1 2890.3,832.7 2891.2,833.3 2892.1,833.9 2893,834.5 2893.9,835.1 2894.8,835.7 2895.7,836.3 2896.6,836.9 2897.5,837.5 2898.4,838 2899.3,838.6 2900.2,839.1 2901.1,839.7 2902,840.4 2902.9,841 2903.8,841.5 2903.9,841.5 2903.9,857.8 2903.8,857.8 2902.9,857.1 2902,856.4 2901.1,855.7 2900.2,855 2899.3,854.4 2898.4,853.6 2897.5,853.1 2896.6,852.4 2895.7,851.7 2894.8,851 2893.9,850.3 2893,849.6 2892.1,849 2891.2,848.4 2890.3,847.7 2889.4,847.1 2888.5,846.5 2887.6,845.9 2886.6,845.2 2885.7,844.6 2884.8,844 2883.9,843.4 2883,842.7 2882.1,842.2 2881.2,841.5 2880.3,840.8 2879.4,840.3 2878.5,839.6 2877.6,839.1 2876.7,838.4 2875.8,837.8 2874.9,837.1 2874,836.4 2873.1,835.9 2872.2,835.3 2871.3,834.7 2870.4,834 2869.5,833.4 2868.6,832.7 2867.6,832.2 2866.7,831.5 2865.8,830.9 2864.9,830.2 2864,829.7 2863.1,829 2862.2,828.5 2861.3,827.9 2860.4,827.1 2859.5,826.6 2858.6,825.9 2857.7,825.3 2856.8,824.7 2855.9,824.1 2854.9,823.4 2854,822.8 2853.1,822.1 2852.2,821.6 2851.3,820.9 2850.4,820.3 2849.5,819.7 2848.6,819.1 2847.7,818.5 2846.8,817.8 2845.9,817.2 2845,816.5 2844.1,816 2843.2,815.3 2842.2,814.7 2841.3,814.2 2840.4,813.5 2839.5,812.9 2838.6,812.3 2837.7,811.7 2836.8,811 2835.9,810.4 2835,809.7 2834.1,809.1 2833.2,808.4 2832.2,807.9 2831.3,807.3 2830.4,806.5 2829.5,805.9 2828.6,805.4 2827.7,804.8 2826.8,804.2 2825.9,803.5 2825,802.8 2824,802.2 2823.1,801.7 2822.2,800.9 2821.3,800.4 2820.4,799.8 2819.5,799.1 2818.6,798.5 2817.7,797.9 2816.8,797.3 2815.9,796.7 2814.9,795.9 2814,795.4 2813.1,794.8 2812.2,794.2 2811.3,793.5 2810.4,792.9 2809.5,792.2 2808.5,791.5 2807.6,791 2806.7,790.2 2805.8,789.7 2804.9,789 2804,788.4 2803.1,787.9 2802.1,787.3 2801.2,786.6 2800.3,785.9 2799.4,785.2 2798.5,784.6 2797.5,784 2796.6,783.4 2795.7,782.7 2794.8,782.1 2793.9,781.5 2793,780.7 2792,780.2 2791.1,779.5 2790.2,778.9 2789.3,778 2788.4,777.5 2787.4,777 2786.5,776.3 2785.6,775.5 2784.7,774.9 2783.8,774.3 2782.8,773.6 2781.9,773.1 2781,772.4 2780.1,771.7 2779.2,771 2778.3,770.5 2777.3,769.7 2776.4,769.1 2775.5,768.5 2774.6,767.7 2773.7,767 2772.7,766.5 2771.8,765.8 2770.9,765.2 2770,764.4 2769,763.7 2768.1,763.3 2767.2,762.6 2766.3,761.9 2765.3,761.3 2764.4,760.5 2763.5,760 2762.6,759.3 2761.7,758.4 2760.7,758 2759.8,757.3 2758.9,756.6 2758,755.9 2757,755.4 2756.1,754.8 2755.2,754.1 2754.3,753.3 2753.4,752.6 2752.4,752.2 2751.5,751.5 2750.6,750.8 2749.7,750.1 2748.7,749.4 2747.8,748.9 2746.8,748.2 2745.9,747.5 2745,746.8 2744.1,746 2743.1,745.6 2742.2,744.8 2741.3,744.3 2740.4,743.5 2739.5,742.9 2738.5,742.3 2737.6,741.6 2736.6,740.8 2735.7,740 2734.8,739.5 2733.9,738.8 2732.9,738.4 2732,737.6 2731,736.8 2730.1,736.2 2729.2,735.4 2728.2,734.9 2727.3,734.4 2726.4,733.5 2725.4,732.9 2724.5,732.2 2723.6,731.5 2722.6,731 2721.7,730.3 2720.8,729.7 2719.9,728.9 2718.9,728.2" fill="#2b9777"/>
<polyline points="2217,341.3 2221.4,346.3 2225.7,351.1 2230,355.8 2234.3,360.4 2238.6,364.9 2243,369.3 2247.3,373.6 2251.6,377.9 2255.9,382.1 2260.2,386.2 2264.6,390.3 2268.9,394.3 2273.2,398.3 2277.5,402.3 2281.8,406.2 2286.2,410.1 2290.5,413.9 2294.8,417.7 2299.1,421.5 2303.4,425.3 2307.8,429 2312.1,432.7 2316.4,436.4 2320.7,440.1 2325,443.7 2329.4,447.4 2333.7,451 2338,454.6 2342.3,458.2 2346.6,461.7 2350.9,465.3 2355.3,468.8 2359.6,472.3 2363.9,475.9 2368.2,479.4 2372.5,482.9 2376.9,486.3 2381.2,489.8 2385.5,493.3 2389.8,496.7 2394.1,500.2 2398.5,503.6 2402.8,507 2407.1,510.4 2411.4,513.9 2415.7,517.3 2420.1,520.7 2424.4,524 2428.7,527.4 2433,530.8 2437.3,534.2 2441.7,537.5 2446,540.9 2450.3,544.3 2454.6,547.6 2458.9,550.9 2463.3,554.3 2467.6,557.6 2471.9,560.9 2476.2,564.3 2480.5,567.6 2484.9,570.9 2489.2,574.2 2493.5,577.5 2497.8,580.8 2502.1,584.1 2506.5,587.4 2510.8,590.7 2515.1,594 2519.4,597.3 2523.7,600.6 2528.1,603.8 2532.4,607.1 2536.7,610.4 2541,613.6 2545.3,616.9 2549.6,620.2 2554,623.4 2558.3,626.7 2562.6,629.9 2566.9,633.2 2571.2,636.4 2575.6,639.7 2579.9,642.9 2584.2,646.2 2588.5,649.4 2592.8,652.6 2597.2,655.9 2601.5,659.1 2605.8,662.3 2610.1,665.6 2614.4,668.8 2618.8,672 2623.1,675.2 2627.4,678.5 2631.7,681.7 2636,684.9 2640.4,688.1 2644.7,691.3 2649,694.5 2653.3,697.7 2657.6,700.9 2662,704.2 2666.3,707.4 2670.6,710.6 2674.9,713.8 2679.2,717 2683.6,720.2 2687.9,723.4 2692.2,726.6 2696.5,729.7 2700.8,732.9 2705.2,736.1 2709.5,739.3 2713.8,742.5 2718.1,745.7 2722.4,748.9 2726.7,752.1 2731.1,755.2 2735.4,758.4 2739.7,761.6 2744,764.8 2748.3,768 2752.7,771.1 2757,774.3 2761.3,777.5 2765.6,780.7 2769.9,783.8 2774.3,787 2778.6,790.2 2782.9,793.4 2787.2,796.5 2791.5,799.7 2795.9,802.9 2800.2,806 2804.5,809.2 2808.8,812.4 2813.1,815.5 2817.5,818.7 2821.8,821.9 2826.1,825 2830.4,828.2 2834.7,831.3 2839.1,834.5 2843.4,837.7 2847.7,840.8 2852,844 2856.3,847.1 2860.7,850.3 2865,853.4 2869.3,856.6 2873.6,859.7 2877.9,862.9 2882.3,866 2886.6,869.2 2890.9,872.3 2895.2,875.5 2899.5,878.6 2903.9,881.8" fill="none" stroke="#6666ff" stroke-width="8.5" stroke-linecap="square" stroke-linejoin="round"/>
</g>
<g stroke="#b0b0b0" stroke-opacity="0.21" stroke-width="2">
<line x1="3084" y1="167.5" x2="3084" y2="932.5"/>
<line x1="3270" y1="167.5" x2="3270" y2="932.5"/>
<line x1="3456" y1="167.5" x2="3456" y2="932.5"/>
<line x1="3641" y1="167.5" x2="3641" y2="932.5"/>
<line x1="3029.5" y1="209" x2="3827.5" y2="209"/>
<line x1="3029.5" y1="308" x2="3827.5" y2="308"/>
<line x1="3029.5" y1="407" x2="3827.5" y2="407"/>
<line x1="3029.5" y1="505" x2="3827.5" y2="505"/>
<line x1="3029.5" y1="604" x2="3827.5" y2="604"/>
<line x1="3029.5" y1="703" x2="3827.5" y2="703"/>
<line x1="3029.5" y1="801" x2="3827.5" y2="801"/>
<line x1="3029.5" y1="900" x2="3827.5" y2="900"/>
</g>
<g clip-path="url(#c3)">
<g fill="#000">
<circle cx="3084.9" cy="214.2" r="6.3"/>
<circle cx="3140.7" cy="352.8" r="6.3"/>
<circle cx="3173.4" cy="395.2" r="6.3"/>
<circle cx="3196.6" cy="420.7" r="6.3"/>
<circle cx="3214.6" cy="439" r="6.3"/>
<circle cx="3229.3" cy="453.2" r="6.3"/>
<circle cx="3241.8" cy="464.8" r="6.3"/>
<circle cx="3252.5" cy="474.7" r="6.3"/>
<circle cx="3262" cy="483.3" r="6.3"/>
<circle cx="3270.5" cy="490.8" r="6.3"/>
<circle cx="3278.2" cy="491.4" r="6.3"/>
<circle cx="3285.2" cy="497.6" r="6.3"/>
<circle cx="3291.7" cy="503.7" r="6.3"/>
<circle cx="3297.7" cy="509.3" r="6.3"/>
<circle cx="3303.2" cy="514.4" r="6.3"/>
<circle cx="3308.4" cy="519.2" r="6.3"/>
<circle cx="3313.3" cy="523.6" r="6.3"/>
<circle cx="3317.9" cy="527.7" r="6.3"/>
<circle cx="3322.3" cy="531.6" r="6.3"/>
<circle cx="3326.4" cy="533.8" r="6.3"/>
<circle cx="3330.4" cy="535.3" r="6.3"/>
<circle cx="3334.1" cy="538.8" r="6.3"/>
<circle cx="3337.7" cy="542.1" r="6.3"/>
<circle cx="3341.1" cy="545.2" r="6.3"/>
<circle cx="3344.4" cy="548.2" r="6.3"/>
<circle cx="3347.6" cy="551.1" r="6.3"/>
<circle cx="3350.6" cy="553.8" r="6.3"/>
<circle cx="3353.6" cy="556.4" r="6.3"/>
<circle cx="3356.4" cy="558.9" r="6.3"/>
<circle cx="3359.1" cy="559.3" r="6.3"/>
<circle cx="3361.8" cy="561.4" r="6.3"/>
<circle cx="3364.3" cy="563.7" r="6.3"/>
<circle cx="3366.8" cy="565.9" r="6.3"/>
<circle cx="3369.2" cy="568.1" r="6.3"/>
<circle cx="3371.5" cy="570.2" r="6.3"/>
<circle cx="3373.8" cy="572.3" r="6.3"/>
<circle cx="3376" cy="574.3" r="6.3"/>
<circle cx="3378.2" cy="576.2" r="6.3"/>
<circle cx="3380.3" cy="576.2" r="6.3"/>
<circle cx="3382.3" cy="577.6" r="6.3"/>
<circle cx="3384.3" cy="578" r="6.3"/>
<circle cx="3386.2" cy="579.8" r="6.3"/>
<circle cx="3388.1" cy="581.6" r="6.3"/>
<circle cx="3390" cy="583.3" r="6.3"/>
<circle cx="3391.8" cy="585" r="6.3"/>
<circle cx="3393.6" cy="586.6" r="6.3"/>
<circle cx="3395.3" cy="588.2" r="6.3"/>
<circle cx="3397" cy="589.8" r="6.3"/>
<circle cx="3398.7" cy="591.3" r="6.3"/>
<circle cx="3400.3" cy="591.8" r="6.3"/>
<circle cx="3401.9" cy="592.7" r="6.3"/>
<circle cx="3403.5" cy="594.2" r="6.3"/>
<circle cx="3405" cy="595.6" r="6.3"/>
<circle cx="3406.5" cy="597" r="6.3"/>
<circle cx="3408" cy="598.3" r="6.3"/>
<circle cx="3409.4" cy="599.7" r="6.3"/>
<circle cx="3410.9" cy="601" r="6.3"/>
<circle cx="3412.3" cy="601.7" r="6.3"/>
<circle cx="3413.7" cy="602.2" r="6.3"/>
<circle cx="3415" cy="603.4" r="6.3"/>
<circle cx="3416.3" cy="603.5" r="6.3"/>
<circle cx="3417.7" cy="604.7" r="6.3"/>
<circle cx="3418.9" cy="605.9" r="6.3"/>
<circle cx="3420.2" cy="607.1" r="6.3"/>
<circle cx="3421.5" cy="608.3" r="6.3"/>
<circle cx="3422.7" cy="609.4" r="6.3"/>
<circle cx="3423.9" cy="610.5" r="6.3"/>
<circle cx="3425.1" cy="611.6" r="6.3"/>
<circle cx="3426.3" cy="612.7" r="6.3"/>
<circle cx="3427.4" cy="613.3" r="6.3"/>
<circle cx="3428.6" cy="613.8" r="6.3"/>
<circle cx="3429.7" cy="614.8" r="6.3"/>
<circle cx="3430.8" cy="615.8" r="6.3"/>
<circle cx="3431.9" cy="616.8" r="6.3"/>
<circle cx="3433" cy="617.8" r="6.3"/>
<circle cx="3434.1" cy="618.8" r="6.3"/>
<circle cx="3435.1" cy="619.8" r="6.3"/>
<circle cx="3436.2" cy="620" r="6.3"/>
<circle cx="3437.2" cy="620.7" r="6.3"/>
<circle cx="3438.2" cy="621.7" r="6.3"/>
<circle cx="3439.2" cy="621.9" r="6.3"/>
<circle cx="3440.2" cy="622.6" r="6.3"/>
<circle cx="3441.2" cy="623.5" r="6.3"/>
<circle cx="3442.1" cy="624.4" r="6.3"/>
<circle cx="3443.1" cy="625.3" r="6.3"/>
<circle cx="3444" cy="626.2" r="6.3"/>
<circle cx="3445" cy="627" r="6.3"/>
<circle cx="3445.9" cy="627.2" r="6.3"/>
<circle cx="3446.8" cy="627.9" r="6.3"/>
<circle cx="3447.7" cy="628.7" r="6.3"/>
<circle cx="3448.6" cy="629.4" r="6.3"/>
<circle cx="3449.5" cy="629.6" r="6.3"/>
<circle cx="3450.3" cy="630" r="6.3"/>
<circle cx="3451.2" cy="630.4" r="6.3"/>
<circle cx="3452.1" cy="631.2" r="6.3"/>
<circle cx="3452.9" cy="632" r="6.3"/>
<circle cx="3453.7" cy="632.8" r="6.3"/>
<circle cx="3454.6" cy="633.6" r="6.3"/>
<circle cx="3455.4" cy="634.2" r="6.3"/>
<circle cx="3456.2" cy="634.3" r="6.3"/>
<circle cx="3457" cy="635.1" r="6.3"/>
<circle cx="3457.8" cy="635.8" r="6.3"/>
<circle cx="3458.6" cy="636.2" r="6.3"/>
<circle cx="3459.4" cy="636.6" r="6.3"/>
<circle cx="3460.1" cy="637.3" r="6.3"/>
<circle cx="3460.9" cy="638" r="6.3"/>
<circle cx="3461.7" cy="638.7" r="6.3"/>
<circle cx="3462.4" cy="639.4" r="6.3"/>
<circle cx="3463.1" cy="640.1" r="6.3"/>
<circle cx="3463.9" cy="640.8" r="6.3"/>
<circle cx="3464.6" cy="641.5" r="6.3"/>
<circle cx="3465.3" cy="642.2" r="6.3"/>
<circle cx="3466.1" cy="642.2" r="6.3"/>
<circle cx="3466.8" cy="642.8" r="6.3"/>
<circle cx="3467.5" cy="643.5" r="6.3"/>
<circle cx="3468.2" cy="644.1" r="6.3"/>
<circle cx="3468.9" cy="644.8" r="6.3"/>
<circle cx="3469.5" cy="645.3" r="6.3"/>
<circle cx="3470.2" cy="645.4" r="6.3"/>
<circle cx="3470.9" cy="645.7" r="6.3"/>
</g>
<polyline points="3470.9,645.7 3472.2,646.6 3473.5,647.7 3474.8,648.4 3476.1,649.6 3477.4,650.8 3478.6,651.9 3479.8,652.6 3481,653.6 3482.2,654.6 3483.3,655.2 3484.5,656.2 3485.6,657.2 3486.7,657.7 3487.8,658.7 3488.9,659.2 3490,660.2 3491,661.1 3492.1,661.6 3493.1,662.5 3494.1,663 3495.1,663.4 3496.1,664.3 3497.1,665.2 3498,665.6 3499,666.5 3499.9,667.4 3500.9,668.2 3501.8,668.9 3502.7,669.4 3503.6,670 3504.9,670.6 3506.2,671.4 3507.5,672.3 3508.8,673.3 3510.1,674.4 3511.3,675.6 3512.5,676.1 3513.7,676.6 3514.9,677.6 3516,678.6 3517.2,679.1 3518.3,680 3519.4,681 3520.5,681.7 3521.6,682.3 3522.7,683.3 3523.7,684.2 3524.8,684.9 3525.8,685.8 3526.8,686.7 3527.8,686.9 3528.8,687.3 3529.8,688.1 3530.7,689 3531.7,689.3 3532.6,690.1 3533.6,690.9 3534.5,691.7 3535.4,692 3536.3,692.8 3537.5,693.8 3538.6,694.3 3539.8,695.1 3540.9,695.9 3542.1,696.4 3543.2,697.4 3544.3,698.3 3545.3,699.1 3546.4,699.8 3547.4,700.3 3548.5,700.9 3549.5,701.9 3550.5,702.5 3551.5,703.4 3552.5,704.1 3553.4,704.5 3554.4,705.4 3555.4,706 3556.3,706.6 3557.2,707.5 3558.1,707.9 3559,708.6 3560.2,709.5 3561.3,710.1 3562.4,710.4 3563.4,711 3564.5,711.8 3565.5,712.7 3566.6,713.5 3567.6,714.2 3568.6,715 3569.6,715.7 3570.6,716.3 3571.5,716.9 3572.5,717.5 3573.4,718.3 3574.4,719 3575.3,719.5 3576.2,720.1 3577.1,720.8 3578.2,721.8 3579.3,722.4 3580.3,723.2 3581.3,723.7 3582.4,724.4 3583.4,725.2 3584.4,725.9 3585.3,726.7 3586.3,727.2 3587.3,727.7 3588.2,728.4 3589.1,729.2 3590.1,729.7 3591,730.5 3591.9,731 3592.9,731.8 3594,732.5 3595,733.2 3596,734 3597,734.5 3597.9,735.2 3598.9,735.9 3599.9,736.6 3600.8,737.2 3601.8,737.8 3602.7,738.7 3603.6,739.3 3604.5,740 3605.5,740.5 3606.5,741.2 3607.5,742 3608.5,742.8 3609.5,743.4 3610.4,743.9 3611.4,744.7 3612.3,745.3 3613.2,746 3614.1,746.6 3615,747.4 3616.1,748.1 3617,748.7 3618,749.4 3619,750 3620,750.8 3620.9,751.2 3621.8,751.9 3622.8,752.7 3623.7,753.4 3624.6,754 3625.6,754.8 3626.6,755.5 3627.5,756.2 3628.5,756.9 3629.4,757.4 3630.4,758.1 3631.3,758.7 3632.2,759.4 3633.1,760.1 3634.1,760.8 3635.1,761.5 3636,762.3 3637,763 3637.9,763.6 3638.8,764.4 3639.8,764.9 3640.7,765.4 3641.6,766.3 3642.6,767 3643.6,767.8 3644.5,768.4 3645.4,769.1" fill="none" stroke="#000" stroke-width="12.6" stroke-linecap="round" stroke-linejoin="round"/>
<polyline points="3642.6,767 3643.6,767.8 3644.5,768.4 3645.4,769.1 3646.3,769.8 3647.3,770.6 3648.2,771.1 3649.1,771.9 3650.1,772.6 3651,773.3 3651.9,774 3652.9,774.5 3653.8,775.2 3654.7,775.9 3655.7,776.6 3656.6,777.3 3657.6,778 3658.5,778.8 3659.4,779.4 3660.3,780.1 3661.3,780.9 3662.2,781.6 3663.2,782.3 3664.1,782.8 3665,783.6 3665.9,784.3 3666.8,785 3667.8,785.6 3668.7,786.4 3669.6,787.1 3670.5,787.7 3671.5,788.4 3672.4,789.1 3673.4,789.8 3674.3,790.4 3675.2,791.2 3676.1,791.9 3677.1,792.5 3678,793.2 3678.9,793.8 3679.8,794.5 3680.7,795.2 3681.7,796 3682.6,796.7 3683.5,797.4 3684.4,798 3685.4,798.7 3686.3,799.3 3687.2,800.1 3688.1,800.7 3689,801.4 3690,802.2 3690.9,802.8 3691.8,803.5 3692.7,804.1 3693.7,804.8 3694.6,805.6 3695.5,806.2 3696.4,806.9 3697.4,807.7 3698.3,808.2 3699.2,808.9 3700.1,809.6 3701,810.3 3702,811.1 3702.9,811.7 3703.8,812.3 3704.7,813.1 3705.6,813.7 3706.5,814.4 3707.5,815.2 3708.4,815.8 3709.3,816.6 3710.2,817.1 3711.1,817.8 3712.1,818.5 3713,819.2 3713.9,819.8 3714.8,820.6 3715.7,821.3 3716.7,821.9 3717.6,822.6 3718.5,823.3 3719.4,824 3720.3,824.7 3721.2,825.3 3722.2,826 3723.1,826.7 3724,827.4 3724.9,828.1 3725.8,828.8 3726.8,829.4 3727.7,830.1 3728.6,830.9 3729.5,831.5 3730.4,832.1 3731.3,832.9 3732.2,833.5 3733.2,834.2 3734.1,834.9 3735,835.6 3735.9,836.3 3736.8,837.1 3737.7,837.7 3738.6,838.5 3739.6,839.3 3740.5,840 3741.4,840.7 3742.3,841.5 3743.2,842.2 3744.1,843 3745,843.7 3745.9,844.5 3746.8,845.4 3747.7,846.2 3748.7,847.1 3749.6,848 3750.5,848.9 3751.4,849.8 3752.3,850.8 3753.2,851.8 3754.1,852.8 3755,853.9 3755.9,855.1 3756.9,856.2 3757.8,857.4 3758.7,858.7 3759.6,860 3760.5,861.3 3761.4,862.8 3762.3,864.3 3763.2,865.9 3764.1,867.6 3765,869.4 3765.9,871.3 3766.9,873.2 3767.8,875.3 3768.7,877.5 3769.6,879.8 3770.5,882.3 3771.4,885 3771.7,885.8" fill="none" stroke="#000" stroke-width="12.6" stroke-linecap="round" stroke-linejoin="round"/>
<polyline points="3689,801.4 3690,802.2 3690.9,802.8 3691.8,803.5 3692.7,804.1 3693.7,804.8 3694.6,805.6 3695.5,806.2 3696.4,806.9 3697.4,807.7 3698.3,808.2 3699.2,808.9 3700.1,809.6 3701,810.3 3702,811.1 3702.9,811.7 3703.8,812.3 3704.7,813.1 3705.6,813.7 3706.5,814.4 3707.5,815.2 3708.4,815.8 3709.3,816.6 3710.2,817.1 3711.1,817.8 3712.1,818.5 3713,819.2 3713.9,819.8 3714.8,820.6 3715.7,821.3 3716.7,821.9 3717.6,822.6 3718.5,823.3 3719.4,824 3720.3,824.7 3721.2,825.3 3722.2,826 3723.1,826.7 3724,827.4 3724.9,828.1 3725.8,828.8 3726.8,829.4 3727.7,830.1 3728.6,830.9 3729.5,831.5 3730.4,832.1 3731.3,832.9 3732.2,833.5 3733.2,834.2 3734.1,834.9 3735,835.6 3735.9,836.3 3736.8,837.1 3737.7,837.7 3738.6,838.5 3739.6,839.3 3740.5,840 3741.4,840.7 3742.3,841.5 3743.2,842.2 3744.1,843 3745,843.7 3745.9,844.5 3746.8,845.4 3747.7,846.2 3748.7,847.1 3749.6,848 3750.5,848.9 3751.4,849.8 3752.3,850.8 3753.2,851.8 3754.1,852.8 3755,853.9 3755.9,855.1 3756.9,856.2 3757.8,857.4 3758.7,858.7" fill="none" stroke="#000" stroke-width="13.62" stroke-linecap="round" stroke-linejoin="round"/>
<line x1="3029" y1="165" x2="3836.8" y2="809.3" stroke="#ff0000" stroke-width="8.5" stroke-dasharray="30.83 13.33"/>
<g fill="#2b9777">
<circle cx="3084.9" cy="214.4" r="5.35"/>
<circle cx="3140.7" cy="349.5" r="5.35"/>
<circle cx="3173.4" cy="394.1" r="5.35"/>
<circle cx="3196.6" cy="420.2" r="5.35"/>
<circle cx="3214.6" cy="438.7" r="5.35"/>
<circle cx="3229.3" cy="453" r="5.35"/>
<circle cx="3241.8" cy="464.7" r="5.35"/>
<circle cx="3252.5" cy="474.6" r="5.35"/>
<circle cx="3262" cy="483.2" r="5.35"/>
<circle cx="3270.5" cy="484.6" r="5.35"/>
<circle cx="3278.2" cy="490.8" r="5.35"/>
<circle cx="3285.2" cy="497.6" r="5.35"/>
<circle cx="3291.7" cy="503.7" r="5.35"/>
<circle cx="3297.7" cy="509.3" r="5.35"/>
<circle cx="3303.2" cy="514.5" r="5.35"/>
<circle cx="3308.4" cy="519.2" r="5.35"/>
<circle cx="3313.3" cy="523.7" r="5.35"/>
<circle cx="3317.9" cy="527.8" r="5.35"/>
<circle cx="3322.3" cy="529.2" r="5.35"/>
<circle cx="3326.4" cy="531.7" r="5.35"/>
<circle cx="3330.4" cy="535.4" r="5.35"/>
<circle cx="3334.1" cy="538.9" r="5.35"/>
<circle cx="3337.7" cy="542.2" r="5.35"/>
<circle cx="3341.1" cy="545.3" r="5.35"/>
<circle cx="3344.4" cy="548.3" r="5.35"/>
<circle cx="3347.6" cy="551.1" r="5.35"/>
<circle cx="3350.6" cy="553.9" r="5.35"/>
<circle cx="3353.6" cy="555.3" r="5.35"/>
<circle cx="3356.4" cy="556.5" r="5.35"/>
<circle cx="3359.1" cy="559" r="5.35"/>
<circle cx="3361.8" cy="561.5" r="5.35"/>
<circle cx="3364.3" cy="563.8" r="5.35"/>
<circle cx="3366.8" cy="566.1" r="5.35"/>
<circle cx="3369.2" cy="568.2" r="5.35"/>
<circle cx="3371.5" cy="570.3" r="5.35"/>
<circle cx="3373.8" cy="572.4" r="5.35"/>
<circle cx="3376" cy="573.8" r="5.35"/>
<circle cx="3378.2" cy="573.8" r="5.35"/>
<circle cx="3380.3" cy="574.4" r="5.35"/>
<circle cx="3382.3" cy="576.3" r="5.35"/>
<circle cx="3384.3" cy="578.1" r="5.35"/>
<circle cx="3386.2" cy="580" r="5.35"/>
<circle cx="3388.1" cy="581.7" r="5.35"/>
<circle cx="3390" cy="583.4" r="5.35"/>
<circle cx="3391.8" cy="585.1" r="5.35"/>
<circle cx="3393.6" cy="586.7" r="5.35"/>
<circle cx="3395.3" cy="588.1" r="5.35"/>
<circle cx="3397" cy="588.3" r="5.35"/>
<circle cx="3398.7" cy="589.9" r="5.35"/>
<circle cx="3400.3" cy="591.4" r="5.35"/>
<circle cx="3401.9" cy="592.9" r="5.35"/>
<circle cx="3403.5" cy="594.3" r="5.35"/>
<circle cx="3405" cy="595.7" r="5.35"/>
<circle cx="3406.5" cy="597.1" r="5.35"/>
<circle cx="3408" cy="598.5" r="5.35"/>
<circle cx="3409.4" cy="599.8" r="5.35"/>
<circle cx="3410.9" cy="599.9" r="5.35"/>
<circle cx="3412.3" cy="599.9" r="5.35"/>
<circle cx="3413.7" cy="601.1" r="5.35"/>
<circle cx="3415" cy="602.4" r="5.35"/>
<circle cx="3416.3" cy="603.6" r="5.35"/>
<circle cx="3417.7" cy="604.8" r="5.35"/>
<circle cx="3418.9" cy="606" r="5.35"/>
<circle cx="3420.2" cy="607.2" r="5.35"/>
<circle cx="3421.5" cy="608.4" r="5.35"/>
<circle cx="3422.7" cy="609.5" r="5.35"/>
<circle cx="3423.9" cy="609.8" r="5.35"/>
<circle cx="3425.1" cy="610.6" r="5.35"/>
<circle cx="3426.3" cy="611.7" r="5.35"/>
<circle cx="3427.4" cy="612.8" r="5.35"/>
<circle cx="3428.6" cy="613.9" r="5.35"/>
<circle cx="3429.7" cy="614.9" r="5.35"/>
<circle cx="3430.8" cy="615.9" r="5.35"/>
<circle cx="3431.9" cy="617" r="5.35"/>
<circle cx="3433" cy="618" r="5.35"/>
<circle cx="3434.1" cy="618.4" r="5.35"/>
<circle cx="3435.1" cy="618.4" r="5.35"/>
<circle cx="3436.2" cy="618.9" r="5.35"/>
<circle cx="3437.2" cy="619.8" r="5.35"/>
<circle cx="3438.2" cy="619.9" r="5.35"/>
<circle cx="3439.2" cy="620.9" r="5.35"/>
<circle cx="3440.2" cy="621.8" r="5.35"/>
<circle cx="3441.2" cy="622.7" r="5.35"/>
<circle cx="3442.1" cy="623.6" r="5.35"/>
<circle cx="3443.1" cy="624.5" r="5.35"/>
<circle cx="3444" cy="625.4" r="5.35"/>
<circle cx="3445" cy="625.9" r="5.35"/>
<circle cx="3445.9" cy="625.9" r="5.35"/>
<circle cx="3446.8" cy="626.3" r="5.35"/>
<circle cx="3447.7" cy="627.2" r="5.35"/>
<circle cx="3448.6" cy="628" r="5.35"/>
<circle cx="3449.5" cy="628.9" r="5.35"/>
<circle cx="3450.3" cy="629.7" r="5.35"/>
<circle cx="3451.2" cy="630.5" r="5.35"/>
<circle cx="3452.1" cy="631.3" r="5.35"/>
<circle cx="3452.9" cy="632.1" r="5.35"/>
<circle cx="3453.7" cy="632.7" r="5.35"/>
<circle cx="3454.6" cy="632.7" r="5.35"/>
<circle cx="3455.4" cy="632.9" r="5.35"/>
<circle cx="3456.2" cy="633.7" r="5.35"/>
<circle cx="3457" cy="634.5" r="5.35"/>
<circle cx="3457.8" cy="635.2" r="5.35"/>
<circle cx="3458.6" cy="636" r="5.35"/>
<circle cx="3459.4" cy="636.7" r="5.35"/>
<circle cx="3460.1" cy="637.4" r="5.35"/>
<circle cx="3460.9" cy="638.2" r="5.35"/>
<circle cx="3461.7" cy="638.8" r="5.35"/>
<circle cx="3462.4" cy="638.9" r="5.35"/>
<circle cx="3463.1" cy="639.6" r="5.35"/>
<circle cx="3463.9" cy="640.3" r="5.35"/>
<circle cx="3464.6" cy="640.9" r="5.35"/>
<circle cx="3465.3" cy="641.6" r="5.35"/>
<circle cx="3466.1" cy="642.3" r="5.35"/>
<circle cx="3466.8" cy="643" r="5.35"/>
<circle cx="3467.5" cy="643.6" r="5.35"/>
<circle cx="3468.2" cy="644.3" r="5.35"/>
<circle cx="3468.9" cy="644.3" r="5.35"/>
<circle cx="3469.5" cy="644.3" r="5.35"/>
<circle cx="3470.2" cy="644.3" r="5.35"/>
<circle cx="3470.9" cy="644.9" r="5.35"/>
</g>
<polyline points="3470.9,644.9 3472.2,646.1 3473.5,647.4 3474.8,648.6 3476.1,649.3 3477.4,650.3 3478.6,651.5 3479.8,652.6 3481,653.7 3482.2,653.9 3483.3,654.7 3484.5,655.8 3485.6,656.8 3486.7,657.9 3487.8,658.2 3488.9,658.8 3490,659.8 3491,660.8 3492.1,661.7 3493.1,662.1 3494.1,662.2 3495.1,663.1 3496.1,663.5 3497.1,664.4 3498,665.3 3499,665.8 3499.9,666.6 3500.9,667.5 3501.8,668.3 3502.7,669.2 3503.6,669.2 3504.9,669.9 3506.2,671.1 3507.5,672.3 3508.8,673.1 3510.1,674.2 3511.3,675.4 3512.5,675.5 3513.7,676.4 3514.9,677.5 3516,678.4 3517.2,678.8 3518.3,679.9 3519.4,680.9 3520.5,681.2 3521.6,682.2 3522.7,683.2 3523.7,683.8 3524.8,684.7 3525.8,685.7 3526.8,686.4 3527.8,686.3 3528.8,687.1 3529.8,687.7 3530.7,688.6 3531.7,688.8 3532.6,689.7 3533.6,690.6 3534.5,691 3535.4,691.7 3536.3,692.5 3537.5,693.2 3538.6,694.1 3539.8,695.1 3540.9,695.3 3542.1,696.4 3543.2,697.4 3544.3,698.1 3545.3,699.1 3546.4,699.4 3547.4,700 3548.5,701 3549.5,701.7 3550.5,702.6 3551.5,703.2 3552.5,703.7 3553.4,704.4 3554.4,704.9 3555.4,705.4 3556.3,706.3 3557.2,706.7 3558.1,707.5 3559,708.4 3560.2,708.9 3561.3,710 3562.4,710 3563.4,710.9 3564.5,711.7 3565.5,712.7 3566.6,713.2 3567.6,714.2 3568.6,714.7 3569.6,715.6 3570.6,716.2 3571.5,716.7 3572.5,717.4 3573.4,718.1 3574.4,719 3575.3,719.1 3576.2,719.9 3577.1,720.6 3578.2,721.6 3579.3,722.1 3580.3,723.1 3581.3,723.5 3582.4,724.3 3583.4,725.1 3584.4,725.9 3585.3,726.8 3586.3,726.9 3587.3,727.8 3588.2,728.1 3589.1,729 3590.1,729.4 3591,730.3 3591.9,730.8 3592.9,731.5 3594,732.3 3595,733.2 3596,733.8 3597,734.5 3597.9,735.2 3598.9,735.9 3599.9,736.4 3600.8,737.1 3601.8,737.9 3602.7,738.5 3603.6,739.2 3604.5,740 3605.5,740.3 3606.5,741.1 3607.5,742 3608.5,742.8 3609.5,743.4 3610.4,743.9 3611.4,744.8 3612.3,745.2 3613.2,745.7 3614.1,746.4 3615,747.1 3616.1,747.7 3617,748.5 3618,749.3 3619,749.9 3620,750.8 3620.9,751.1 3621.8,751.9 3622.8,752.6 3623.7,753.3 3624.6,753.9 3625.6,754.6 3626.6,755.4 3627.5,755.9 3628.5,756.8 3629.4,757.4 3630.4,758.1 3631.3,758.7 3632.2,759.4 3633.1,760.2 3634.1,760.6 3635.1,761.4 3636,762.2 3637,763 3637.9,763.6 3638.8,764.5 3639.8,764.8 3640.7,765.5 3641.6,766.3 3642.6,767.1 3643.6,767.9 3644.5,768.6 3645.4,769.2" fill="none" stroke="#2b9777" stroke-width="10.7" stroke-linecap="round" stroke-linejoin="round"/>
<polygon points="3642.6,760.3 3643.6,761.1 3644.5,761.8 3645.4,762.4 3646.3,763.1 3647.3,763.6 3648.2,764.3 3649.1,764.9 3650.1,765.6 3651,766.4 3651.9,767.1 3652.9,767.7 3653.8,768.5 3654.7,769.2 3655.7,769.9 3656.6,770.5 3657.6,771.4 3658.5,771.9 3659.4,772.5 3660.3,773.2 3661.3,774 3662.2,774.6 3663.2,775.4 3664.1,775.9 3665,776.7 3665.9,777.2 3666.8,778 3667.8,778.7 3668.7,779.4 3669.6,780.1 3670.5,780.7 3671.5,781.4 3672.4,782 3673.4,782.7 3674.3,783.4 3675.2,784.1 3676.1,784.7 3677.1,785.3 3678,786.1 3678.9,786.9 3679.8,787.4 3680.7,788.2 3681.7,788.6 3682.6,789.4 3683.5,790.2 3684.4,790.7 3685.4,791.5 3686.3,792.1 3687.2,792.9 3688.1,793.5 3689,794.2 3690,794.8 3690.9,795.4 3691.8,796.3 3692.7,796.8 3693.7,797.5 3694.6,798.2 3695.5,798.9 3696.4,799.5 3697.4,800.3 3698.3,800.8 3699.2,801.6 3700.1,802.3 3701,803 3702,803.7 3702.9,804.4 3703.8,805 3704.7,805.7 3705.6,806.2 3706.5,806.9 3707.5,807.6 3708.4,808.4 3709.3,809 3710.2,809.7 3711.1,810.3 3712.1,811 3713,811.7 3713.9,812.3 3714.8,813.1 3715.7,813.7 3716.7,814.3 3717.6,815.1 3718.5,815.7 3719.4,816.4 3720.3,817 3721.2,817.8 3722.2,818.6 3723.1,819.1 3724,819.9 3724.9,820.5 3725.8,821.2 3726.8,821.8 3727.7,822.5 3728.6,823.2 3729.5,823.9 3730.4,824.6 3731.3,825.2 3732.2,826 3733.2,826.5 3734.1,827.3 3735,828 3735.9,828.6 3736.8,829.4 3737.7,830.1 3738.6,830.7 3739.6,831.4 3740.5,831.9 3741.4,832.6 3742.3,833.3 3743.2,834 3744.1,834.7 3745,835.3 3745.9,836.1 3746.8,836.7 3747.7,837.4 3748.7,838 3749.6,838.6 3750.5,839.4 3751.4,840.1 3752.3,840.8 3753.2,841.4 3754.1,842.1 3755,842.7 3755.9,843.5 3756.9,844 3757.8,844.7 3758.7,845.4 3759.6,846.1 3760.5,846.7 3761.4,847.4 3762.3,848.1 3763.2,848.8 3764.1,849.4 3765,850.1 3765.9,850.7 3766.9,851.4 3767.8,852 3768.7,852.7 3769.6,853.4 3770.5,854.1 3771.4,854.8 3772.3,855.4 3773.2,856.1 3774.1,856.7 3775,857.4 3775.9,858 3776.8,858.7 3777.7,859.4 3778.6,860.1 3779.6,860.7 3780.5,861.4 3781.4,862.1 3782.3,862.8 3783.2,863.4 3784.1,864.1 3785,864.8 3785.9,865.4 3786.8,866.1 3787.7,866.8 3788.6,867.4 3789.5,868.1 3790.4,868.7 3791.3,869.3 3792.3,870 3793.2,870.7 3794.1,871.4 3795,872 3795.9,872.8 3796.8,873.4 3797.7,874.1 3798.6,874.6 3799.5,875.3 3800.4,876 3801.3,876.7 3802.2,877.4 3803.1,878 3804,878.7 3804.9,879.4 3805.8,880 3806.7,880.7 3807.6,881.3 3808.5,882 3809.4,882.7 3810.3,883.3 3811.3,884 3812.2,884.6 3813.1,885.3 3814,886 3814.9,886.6 3815.8,887.3 3816.7,887.9 3817.6,888.5 3818.5,889.2 3819.4,889.9 3820.3,890.5 3821.2,891.1 3822.1,891.8 3823,892.4 3823.9,893.1 3824.8,893.7 3825.7,894.3 3826.6,894.9 3827.5,895.6 3827.6,895.6 3827.6,911.5 3827.5,911.5 3826.6,910.7 3825.7,910.1 3824.8,909.4 3823.9,908.7 3823,908 3822.1,907.4 3821.2,906.7 3820.3,906 3819.4,905.3 3818.5,904.6 3817.6,903.9 3816.7,903.2 3815.8,902.5 3814.9,901.9 3814,901.2 3813.1,900.6 3812.2,899.9 3811.3,899.3 3810.3,898.6 3809.4,897.9 3808.5,897.2 3807.6,896.6 3806.7,895.9 3805.8,895.3 3804.9,894.7 3804,894 3803.1,893.3 3802.2,892.6 3801.3,892 3800.4,891.2 3799.5,890.6 3798.6,889.9 3797.7,889.4 3796.8,888.6 3795.9,888 3795,887.3 3794.1,886.7 3793.2,886 3792.3,885.3 3791.3,884.6 3790.4,884 3789.5,883.3 3788.6,882.7 3787.7,882 3786.8,881.4 3785.9,880.7 3785,880.1 3784.1,879.3 3783.2,878.7 3782.3,878 3781.4,877.4 3780.5,876.7 3779.6,876 3778.6,875.4 3777.7,874.7 3776.8,874 3775.9,873.3 3775,872.7 3774.1,872 3773.2,871.4 3772.3,870.7 3771.4,870.1 3770.5,869.4 3769.6,868.7 3768.7,868 3767.8,867.3 3766.9,866.7 3765.9,866 3765,865.3 3764.1,864.7 3763.2,864.1 3762.3,863.4 3761.4,862.7 3760.5,862 3759.6,861.3 3758.7,860.7 3757.8,860 3756.9,859.3 3755.9,858.8 3755,858 3754.1,857.4 3753.2,856.6 3752.3,856.1 3751.4,855.4 3750.5,854.7 3749.6,853.9 3748.7,853.3 3747.7,852.7 3746.8,851.9 3745.9,851.3 3745,850.6 3744.1,850 3743.2,849.3 3742.3,848.6 3741.4,847.9 3740.5,847.2 3739.6,846.7 3738.6,845.9 3737.7,845.4 3736.8,844.7 3735.9,843.9 3735,843.3 3734.1,842.6 3733.2,841.8 3732.2,841.3 3731.3,840.5 3730.4,839.9 3729.5,839.2 3728.6,838.5 3727.7,837.9 3726.8,837.1 3725.8,836.5 3724.9,835.8 3724,835.2 3723.1,834.5 3722.2,833.9 3721.2,833.2 3720.3,832.4 3719.4,831.7 3718.5,831 3717.6,830.4 3716.7,829.7 3715.7,829 3714.8,828.4 3713.9,827.6 3713,827 3712.1,826.2 3711.1,825.5 3710.2,824.9 3709.3,824.1 3708.4,823.5 3707.5,822.7 3706.5,822 3705.6,821.3 3704.7,820.7 3703.8,820 3702.9,819.4 3702,818.7 3701,817.9 3700.1,817.2 3699.2,816.4 3698.3,815.7 3697.4,815.2 3696.4,814.4 3695.5,813.7 3694.6,812.9 3693.7,812.3 3692.7,811.5 3691.8,811 3690.9,810.1 3690,809.5 3689,808.8 3688.1,808 3687.2,807.4 3686.3,806.6 3685.4,806 3684.4,805.2 3683.5,804.6 3682.6,803.9 3681.7,803 3680.7,802.6 3679.8,801.7 3678.9,801.2 3678,800.4 3677.1,799.6 3676.1,799 3675.2,798.3 3674.3,797.6 3673.4,796.9 3672.4,796.1 3671.5,795.5 3670.5,794.8 3669.6,794.2 3668.7,793.5 3667.8,792.7 3666.8,792 3665.9,791.2 3665,790.6 3664.1,789.8 3663.2,789.3 3662.2,788.5 3661.3,787.8 3660.3,787 3659.4,786.3 3658.5,785.7 3657.6,785.1 3656.6,784.2 3655.7,783.5 3654.7,782.8 3653.8,782.1 3652.9,781.4 3651.9,780.7 3651,780.1 3650.1,779.2 3649.1,778.6 3648.2,777.9 3647.3,777.3 3646.3,776.8 3645.4,776 3644.5,775.5 3643.6,774.7 3642.6,773.9" fill="#2b9777"/>
<polyline points="3140.7,346.1 3145.1,351.6 3149.4,356.9 3153.7,362 3158,367 3162.3,371.9 3166.7,376.7 3171,381.4 3175.3,386 3179.6,390.5 3183.9,395 3188.3,399.4 3192.6,403.7 3196.9,408 3201.2,412.2 3205.5,416.4 3209.9,420.6 3214.2,424.7 3218.5,428.8 3222.8,432.8 3227.1,436.8 3231.5,440.8 3235.8,444.7 3240.1,448.7 3244.4,452.6 3248.7,456.4 3253.1,460.3 3257.4,464.1 3261.7,468 3266,471.8 3270.3,475.5 3274.6,479.3 3279,483.1 3283.3,486.8 3287.6,490.5 3291.9,494.2 3296.2,497.9 3300.6,501.6 3304.9,505.3 3309.2,508.9 3313.5,512.6 3317.8,516.2 3322.2,519.9 3326.5,523.5 3330.8,527.1 3335.1,530.7 3339.4,534.3 3343.8,537.9 3348.1,541.5 3352.4,545 3356.7,548.6 3361,552.2 3365.4,555.7 3369.7,559.3 3374,562.8 3378.3,566.3 3382.6,569.9 3387,573.4 3391.3,576.9 3395.6,580.4 3399.9,583.9 3404.2,587.4 3408.6,590.9 3412.9,594.4 3417.2,597.9 3421.5,601.4 3425.8,604.8 3430.2,608.3 3434.5,611.8 3438.8,615.3 3443.1,618.7 3447.4,622.2 3451.8,625.6 3456.1,629.1 3460.4,632.5 3464.7,636 3469,639.4 3473.3,642.9 3477.7,646.3 3482,649.7 3486.3,653.2 3490.6,656.6 3494.9,660 3499.3,663.4 3503.6,666.9 3507.9,670.3 3512.2,673.7 3516.5,677.1 3520.9,680.5 3525.2,683.9 3529.5,687.3 3533.8,690.7 3538.1,694.1 3542.5,697.5 3546.8,700.9 3551.1,704.3 3555.4,707.7 3559.7,711.1 3564.1,714.5 3568.4,717.9 3572.7,721.3 3577,724.7 3581.3,728 3585.7,731.4 3590,734.8 3594.3,738.2 3598.6,741.6 3602.9,744.9 3607.3,748.3 3611.6,751.7 3615.9,755.1 3620.2,758.4 3624.5,761.8 3628.9,765.2 3633.2,768.5 3637.5,771.9 3641.8,775.2 3646.1,778.6 3650.4,782 3654.8,785.3 3659.1,788.7 3663.4,792 3667.7,795.4 3672,798.7 3676.4,802.1 3680.7,805.5 3685,808.8 3689.3,812.2 3693.6,815.5 3698,818.9 3702.3,822.2 3706.6,825.5 3710.9,828.9 3715.2,832.2 3719.6,835.6 3723.9,838.9 3728.2,842.3 3732.5,845.6 3736.8,848.9 3741.2,852.3 3745.5,855.6 3749.8,859 3754.1,862.3 3758.4,865.6 3762.8,869 3767.1,872.3 3771.4,875.6 3775.7,879 3780,882.3 3784.4,885.6 3788.7,889 3793,892.3 3797.3,895.6 3801.6,899 3806,902.3 3810.3,905.6 3814.6,908.9 3818.9,912.3 3823.2,915.6 3827.6,918.9" fill="none" stroke="#6666ff" stroke-width="8.5" stroke-linecap="square" stroke-linejoin="round"/>
</g>
<g>
<rect x="280" y="614.1" width="425.7" height="291.7" rx="8.5" ry="8.5" fill="#fff" fill-opacity="0.8" stroke="#cccccc" stroke-opacity="0.8" stroke-width="4.17"/>
<circle cx="345.5" cy="648.6" r="6.3" fill="#000"/>
<line x1="299.1" y1="712.9" x2="390.8" y2="712.9" stroke="#ff0000" stroke-width="8.4" stroke-dasharray="30.83 13.33"/>
<circle cx="345.5" cy="784.8" r="5.35" fill="#2b9777"/>
<line x1="294.8" y1="858.8" x2="394.3" y2="858.8" stroke="#6666ff" stroke-width="8.4"/>
<text x="425.7" y="664.5" font-size="45.83">exp</text>
<path d="M435.8 699.9 C437.2 698.1 440.7 697.3 442.5 701.4 L453 730.3 L449.3 730.3 L440.1 703.4 C439.5 701.2 437.9 699.9 436.1 700.7 Z M443.7 715.4 L444.5 717.2 L432.8 731 L430.3 729.2 Z" fill="#000"/>
<text transform="translate(457.6 736.9) scale(1.08 1)" font-size="32.08" class="i">j</text>
<path d="M510.8 710.9 C504.9 710.9 501 715.1 498.1 720.5 C495.4 725.5 493 730.1 489.2 730.1 C484.8 730.1 481.2 726.3 481.2 720.5 C481.2 714.7 484.8 710.9 489.2 710.9 C493 710.9 495.4 715.5 498.1 720.5 C501 725.9 504.9 730.1 510.8 730.1" fill="none" stroke="#000" stroke-width="1.5"/><path d="M510.8 710.9 C504.9 710.9 501 715.1 498.1 720.5 C496.1 724.2 494.2 727.8 491.8 729.3" fill="none" stroke="#000" stroke-width="2.5"/><path d="M491.8 711.7 C494.2 713.2 496.1 716.8 498.1 720.5 C501 725.9 504.9 730.1 510.8 730.1" fill="none" stroke="#000" stroke-width="2.5"/>
<text transform="translate(526.3 729.9) scale(1.12 1)" font-size="45.83" class="i">j</text>
<rect x="548.3" y="704.4" width="20.1" height="1.8" fill="#000"/>
<text transform="translate(571.6 713) scale(1.05 1)" font-size="32.08" class="i">a</text>
<path d="M435.8 771.3 C437.2 769.5 440.7 768.7 442.5 772.8 L453 801.7 L449.3 801.7 L440.1 774.8 C439.5 772.6 437.9 771.3 436.1 772.1 Z M443.7 786.8 L444.5 788.6 L432.8 802.4 L430.3 800.6 Z" fill="#000"/>
<text transform="translate(457.6 808.3) scale(1.08 1)" font-size="32.08" class="i">j</text>
<text x="481.7" y="802.1" font-size="45.83">from HEA</text>
<path d="M435.8 846 C437.2 844.2 440.7 843.4 442.5 847.5 L453 876.4 L449.3 876.4 L440.1 849.5 C439.5 847.3 437.9 846 436.1 846.8 Z M443.7 861.5 L444.5 863.3 L432.8 877.1 L430.3 875.3 Z" fill="#000"/>
<text transform="translate(457.6 883) scale(1.08 1)" font-size="32.08" class="i">j</text>
<path d="M510.8 857 C504.9 857 501 861.2 498.1 866.6 C495.4 871.6 493 876.2 489.2 876.2 C484.8 876.2 481.2 872.4 481.2 866.6 C481.2 860.8 484.8 857 489.2 857 C493 857 495.4 861.6 498.1 866.6 C501 872 504.9 876.2 510.8 876.2" fill="none" stroke="#000" stroke-width="1.5"/><path d="M510.8 857 C504.9 857 501 861.2 498.1 866.6 C496.1 870.3 494.2 873.9 491.8 875.4" fill="none" stroke="#000" stroke-width="2.5"/><path d="M491.8 857.8 C494.2 859.3 496.1 862.9 498.1 866.6 C501 872 504.9 876.2 510.8 876.2" fill="none" stroke="#000" stroke-width="2.5"/>
<text transform="translate(524.0 876.8) scale(1.2 1)" font-size="45.83" class="i" stroke="#fff" stroke-width="0.7">f</text>
<text x="546.8" y="878.3" font-size="49.4964">(</text>
<text transform="translate(567 876.8) scale(1.15 1)" font-size="45.83" class="i">j</text>
<text x="582.3" y="876.8" font-size="45.83">;</text>
<text transform="translate(601.4 876.8) scale(1.08 1)" font-size="45.83" class="i">σ</text>
<text x="630.6" y="876.8" font-size="45.83">,</text>
<text transform="translate(648.8 876.8) scale(1.1 1)" font-size="45.83" class="i">a</text>
<text x="672.2" y="878.3" font-size="49.4964">)</text>
</g>
<g stroke="#000" stroke-width="3.33" fill="none">
<rect x="258.5" y="167.5" width="798.0" height="765.0" stroke-linejoin="miter"/>
<line x1="313.5" y1="932.5" x2="313.5" y2="947.5"/>
<line x1="499.5" y1="932.5" x2="499.5" y2="947.5"/>
<line x1="685.5" y1="932.5" x2="685.5" y2="947.5"/>
<line x1="870.5" y1="932.5" x2="870.5" y2="947.5"/>
<line x1="1056.5" y1="932.5" x2="1056.5" y2="947.5"/>
<line x1="258.5" y1="209.5" x2="243.2" y2="209.5"/>
<line x1="258.5" y1="308.5" x2="243.2" y2="308.5"/>
<line x1="258.5" y1="407.5" x2="243.2" y2="407.5"/>
<line x1="258.5" y1="505.5" x2="243.2" y2="505.5"/>
<line x1="258.5" y1="604.5" x2="243.2" y2="604.5"/>
<line x1="258.5" y1="703.5" x2="243.2" y2="703.5"/>
<line x1="258.5" y1="801.5" x2="243.2" y2="801.5"/>
<line x1="258.5" y1="900.5" x2="243.2" y2="900.5"/>
</g>
<text x="271.4" y="1003.8" font-size="62.5">10</text>
<text x="334.2" y="982" font-size="43.75">0</text>
<text x="457" y="1003.8" font-size="62.5">10</text>
<text x="519.9" y="982" font-size="43.75">1</text>
<text x="642.7" y="1003.8" font-size="62.5">10</text>
<text x="705.6" y="982" font-size="43.75">2</text>
<text x="828.4" y="1003.8" font-size="62.5">10</text>
<text x="891.2" y="982" font-size="43.75">3</text>
<text x="1014.1" y="1003.8" font-size="62.5">10</text>
<text x="1076.9" y="982" font-size="43.75">4</text>
<text x="567.2" y="1082" font-size="62.5">index</text>
<text transform="translate(727.6 1082) scale(1.15 1)" font-size="62.5" class="i">j</text>
<text x="399.2" y="72.9" font-size="62.5">kernel width</text>
<text transform="translate(728.9 72.9) scale(1.06 1)" font-size="62.5" class="i">σ</text>
<rect x="779.5" y="50.9" width="41.5" height="2.5" fill="#000"/><rect x="779.5" y="62.5" width="41.5" height="2.5" fill="#000"/>
<text x="836.5" y="72.9" font-size="62.5">1.2</text>
<text x="384" y="141.1" font-size="62.5">data exponent</text>
<text transform="translate(749.4 141.1) scale(1.06 1)" font-size="62.5" class="i">a</text>
<rect x="796.2" y="120.4" width="41.3" height="2.5" fill="#000"/><rect x="796.2" y="132.0" width="41.3" height="2.5" fill="#000"/>
<text x="853" y="141.1" font-size="62.5">1.5</text>
<g stroke="#000" stroke-width="3.33" fill="none">
<rect x="1181.5" y="167.5" width="799.0" height="765.0" stroke-linejoin="miter"/>
<line x1="1237.5" y1="932.5" x2="1237.5" y2="947.5"/>
<line x1="1423.5" y1="932.5" x2="1423.5" y2="947.5"/>
<line x1="1608.5" y1="932.5" x2="1608.5" y2="947.5"/>
<line x1="1794.5" y1="932.5" x2="1794.5" y2="947.5"/>
<line x1="1980.5" y1="932.5" x2="1980.5" y2="947.5"/>
<line x1="1181.5" y1="209.5" x2="1166.2" y2="209.5"/>
<line x1="1181.5" y1="308.5" x2="1166.2" y2="308.5"/>
<line x1="1181.5" y1="407.5" x2="1166.2" y2="407.5"/>
<line x1="1181.5" y1="505.5" x2="1166.2" y2="505.5"/>
<line x1="1181.5" y1="604.5" x2="1166.2" y2="604.5"/>
<line x1="1181.5" y1="703.5" x2="1166.2" y2="703.5"/>
<line x1="1181.5" y1="801.5" x2="1166.2" y2="801.5"/>
<line x1="1181.5" y1="900.5" x2="1166.2" y2="900.5"/>
</g>
<text x="1195" y="1003.8" font-size="62.5">10</text>
<text x="1257.9" y="982" font-size="43.75">0</text>
<text x="1380.7" y="1003.8" font-size="62.5">10</text>
<text x="1443.6" y="982" font-size="43.75">1</text>
<text x="1566.4" y="1003.8" font-size="62.5">10</text>
<text x="1629.2" y="982" font-size="43.75">2</text>
<text x="1752.1" y="1003.8" font-size="62.5">10</text>
<text x="1814.9" y="982" font-size="43.75">3</text>
<text x="1937.8" y="1003.8" font-size="62.5">10</text>
<text x="2000.6" y="982" font-size="43.75">4</text>
<text x="1490.9" y="1082" font-size="62.5">index</text>
<text transform="translate(1651.3 1082) scale(1.15 1)" font-size="62.5" class="i">j</text>
<text x="1322.9" y="72.9" font-size="62.5">kernel width</text>
<text transform="translate(1652.6 72.9) scale(1.06 1)" font-size="62.5" class="i">σ</text>
<rect x="1703.2" y="50.9" width="41.5" height="2.5" fill="#000"/><rect x="1703.2" y="62.5" width="41.5" height="2.5" fill="#000"/>
<text x="1760.2" y="72.9" font-size="62.5">1.5</text>
<text x="1307.7" y="141.1" font-size="62.5">data exponent</text>
<text transform="translate(1673.1 141.1) scale(1.06 1)" font-size="62.5" class="i">a</text>
<rect x="1719.9" y="120.4" width="41.3" height="2.5" fill="#000"/><rect x="1719.9" y="132.0" width="41.3" height="2.5" fill="#000"/>
<text x="1776.7" y="141.1" font-size="62.5">1.5</text>
<g stroke="#000" stroke-width="3.33" fill="none">
<rect x="2105.5" y="167.5" width="798.0" height="765.0" stroke-linejoin="miter"/>
<line x1="2161.5" y1="932.5" x2="2161.5" y2="947.5"/>
<line x1="2346.5" y1="932.5" x2="2346.5" y2="947.5"/>
<line x1="2532.5" y1="932.5" x2="2532.5" y2="947.5"/>
<line x1="2718.5" y1="932.5" x2="2718.5" y2="947.5"/>
<line x1="2903.5" y1="932.5" x2="2903.5" y2="947.5"/>
<line x1="2105.5" y1="209.5" x2="2090.2" y2="209.5"/>
<line x1="2105.5" y1="308.5" x2="2090.2" y2="308.5"/>
<line x1="2105.5" y1="407.5" x2="2090.2" y2="407.5"/>
<line x1="2105.5" y1="505.5" x2="2090.2" y2="505.5"/>
<line x1="2105.5" y1="604.5" x2="2090.2" y2="604.5"/>
<line x1="2105.5" y1="703.5" x2="2090.2" y2="703.5"/>
<line x1="2105.5" y1="801.5" x2="2090.2" y2="801.5"/>
<line x1="2105.5" y1="900.5" x2="2090.2" y2="900.5"/>
</g>
<text x="2118.8" y="1003.8" font-size="62.5">10</text>
<text x="2181.6" y="982" font-size="43.75">0</text>
<text x="2304.4" y="1003.8" font-size="62.5">10</text>
<text x="2367.3" y="982" font-size="43.75">1</text>
<text x="2490.1" y="1003.8" font-size="62.5">10</text>
<text x="2552.9" y="982" font-size="43.75">2</text>
<text x="2675.8" y="1003.8" font-size="62.5">10</text>
<text x="2738.6" y="982" font-size="43.75">3</text>
<text x="2861.5" y="1003.8" font-size="62.5">10</text>
<text x="2924.3" y="982" font-size="43.75">4</text>
<text x="2414.6" y="1082" font-size="62.5">index</text>
<text transform="translate(2575 1082) scale(1.15 1)" font-size="62.5" class="i">j</text>
<text x="2246.6" y="72.9" font-size="62.5">kernel width</text>
<text transform="translate(2576.3 72.9) scale(1.06 1)" font-size="62.5" class="i">σ</text>
<rect x="2626.9" y="50.9" width="41.5" height="2.5" fill="#000"/><rect x="2626.9" y="62.5" width="41.5" height="2.5" fill="#000"/>
<text x="2683.9" y="72.9" font-size="62.5">2.0</text>
<text x="2231.4" y="141.1" font-size="62.5">data exponent</text>
<text transform="translate(2596.8 141.1) scale(1.06 1)" font-size="62.5" class="i">a</text>
<rect x="2643.6" y="120.4" width="41.3" height="2.5" fill="#000"/><rect x="2643.6" y="132.0" width="41.3" height="2.5" fill="#000"/>
<text x="2700.4" y="141.1" font-size="62.5">1.5</text>
<g stroke="#000" stroke-width="3.33" fill="none">
<rect x="3029.5" y="167.5" width="798.0" height="765.0" stroke-linejoin="miter"/>
<line x1="3084.5" y1="932.5" x2="3084.5" y2="947.5"/>
<line x1="3270.5" y1="932.5" x2="3270.5" y2="947.5"/>
<line x1="3456.5" y1="932.5" x2="3456.5" y2="947.5"/>
<line x1="3641.5" y1="932.5" x2="3641.5" y2="947.5"/>
<line x1="3827.5" y1="932.5" x2="3827.5" y2="947.5"/>
<line x1="3029.5" y1="209.5" x2="3014.2" y2="209.5"/>
<line x1="3029.5" y1="308.5" x2="3014.2" y2="308.5"/>
<line x1="3029.5" y1="407.5" x2="3014.2" y2="407.5"/>
<line x1="3029.5" y1="505.5" x2="3014.2" y2="505.5"/>
<line x1="3029.5" y1="604.5" x2="3014.2" y2="604.5"/>
<line x1="3029.5" y1="703.5" x2="3014.2" y2="703.5"/>
<line x1="3029.5" y1="801.5" x2="3014.2" y2="801.5"/>
<line x1="3029.5" y1="900.5" x2="3014.2" y2="900.5"/>
</g>
<text x="3042.5" y="1003.8" font-size="62.5">10</text>
<text x="3105.3" y="982" font-size="43.75">0</text>
<text x="3228.1" y="1003.8" font-size="62.5">10</text>
<text x="3291" y="982" font-size="43.75">1</text>
<text x="3413.8" y="1003.8" font-size="62.5">10</text>
<text x="3476.7" y="982" font-size="43.75">2</text>
<text x="3599.5" y="1003.8" font-size="62.5">10</text>
<text x="3662.3" y="982" font-size="43.75">3</text>
<text x="3785.2" y="1003.8" font-size="62.5">10</text>
<text x="3848" y="982" font-size="43.75">4</text>
<text x="3338.3" y="1082" font-size="62.5">index</text>
<text transform="translate(3498.7 1082) scale(1.15 1)" font-size="62.5" class="i">j</text>
<text x="3170.3" y="72.9" font-size="62.5">kernel width</text>
<text transform="translate(3500 72.9) scale(1.06 1)" font-size="62.5" class="i">σ</text>
<rect x="3550.6" y="50.9" width="41.5" height="2.5" fill="#000"/><rect x="3550.6" y="62.5" width="41.5" height="2.5" fill="#000"/>
<text x="3607.6" y="72.9" font-size="62.5">3.0</text>
<text x="3155.1" y="141.1" font-size="62.5">data exponent</text>
<text transform="translate(3520.5 141.1) scale(1.06 1)" font-size="62.5" class="i">a</text>
<rect x="3567.3" y="120.4" width="41.3" height="2.5" fill="#000"/><rect x="3567.3" y="132.0" width="41.3" height="2.5" fill="#000"/>
<text x="3624.1" y="141.1" font-size="62.5">1.5</text>
<text x="142.7" y="231.4" font-size="62.5">10</text>
<text x="205.8" y="209.6" font-size="43.75">0</text>
<text x="116.8" y="330.1" font-size="62.5">10</text>
<rect x="183" y="293.8" width="24.7" height="2.6" fill="#000"/>
<text x="209" y="308.3" font-size="43.75">1</text>
<text x="112" y="428.8" font-size="62.5">10</text>
<rect x="178.2" y="392.5" width="24.7" height="2.6" fill="#000"/>
<text x="206.1" y="407" font-size="43.75">2</text>
<text x="114.1" y="527.6" font-size="62.5">10</text>
<rect x="180.3" y="491.3" width="24.7" height="2.6" fill="#000"/>
<text x="206.5" y="505.8" font-size="43.75">3</text>
<text x="112.7" y="626.3" font-size="62.5">10</text>
<rect x="178.9" y="590" width="24.7" height="2.6" fill="#000"/>
<text x="205.4" y="604.5" font-size="43.75">4</text>
<text x="114.1" y="725" font-size="62.5">10</text>
<rect x="180.3" y="688.7" width="24.7" height="2.6" fill="#000"/>
<text x="206.2" y="703.2" font-size="43.75">5</text>
<text x="112.8" y="823.7" font-size="62.5">10</text>
<rect x="179" y="787.4" width="24.7" height="2.6" fill="#000"/>
<text x="205.8" y="801.9" font-size="43.75">6</text>
<text x="113.7" y="922.4" font-size="62.5">10</text>
<rect x="179.9" y="886.1" width="24.7" height="2.6" fill="#000"/>
<text x="205.4" y="900.6" font-size="43.75">7</text>
<g transform="translate(74.5 721.4) rotate(-90)">
<text x="0" y="0" font-size="62.5">eigenvalue</text>
<path d="M297.3 -41.8 C299.2 -44.2 304.1 -45.3 306.4 -39.6 L320.7 -0.2 L315.7 -0.2 L303.1 -37 C302.3 -40 300.1 -41.8 297.7 -40.6 Z M308.1 -20.6 L309.1 -18.1 L293.2 0.6 L289.8 -1.8 Z" fill="#000"/>
<text transform="translate(328 9.2) scale(1.1 1)" font-size="43.75" class="i">j</text>
</g>
</svg></body></html>
